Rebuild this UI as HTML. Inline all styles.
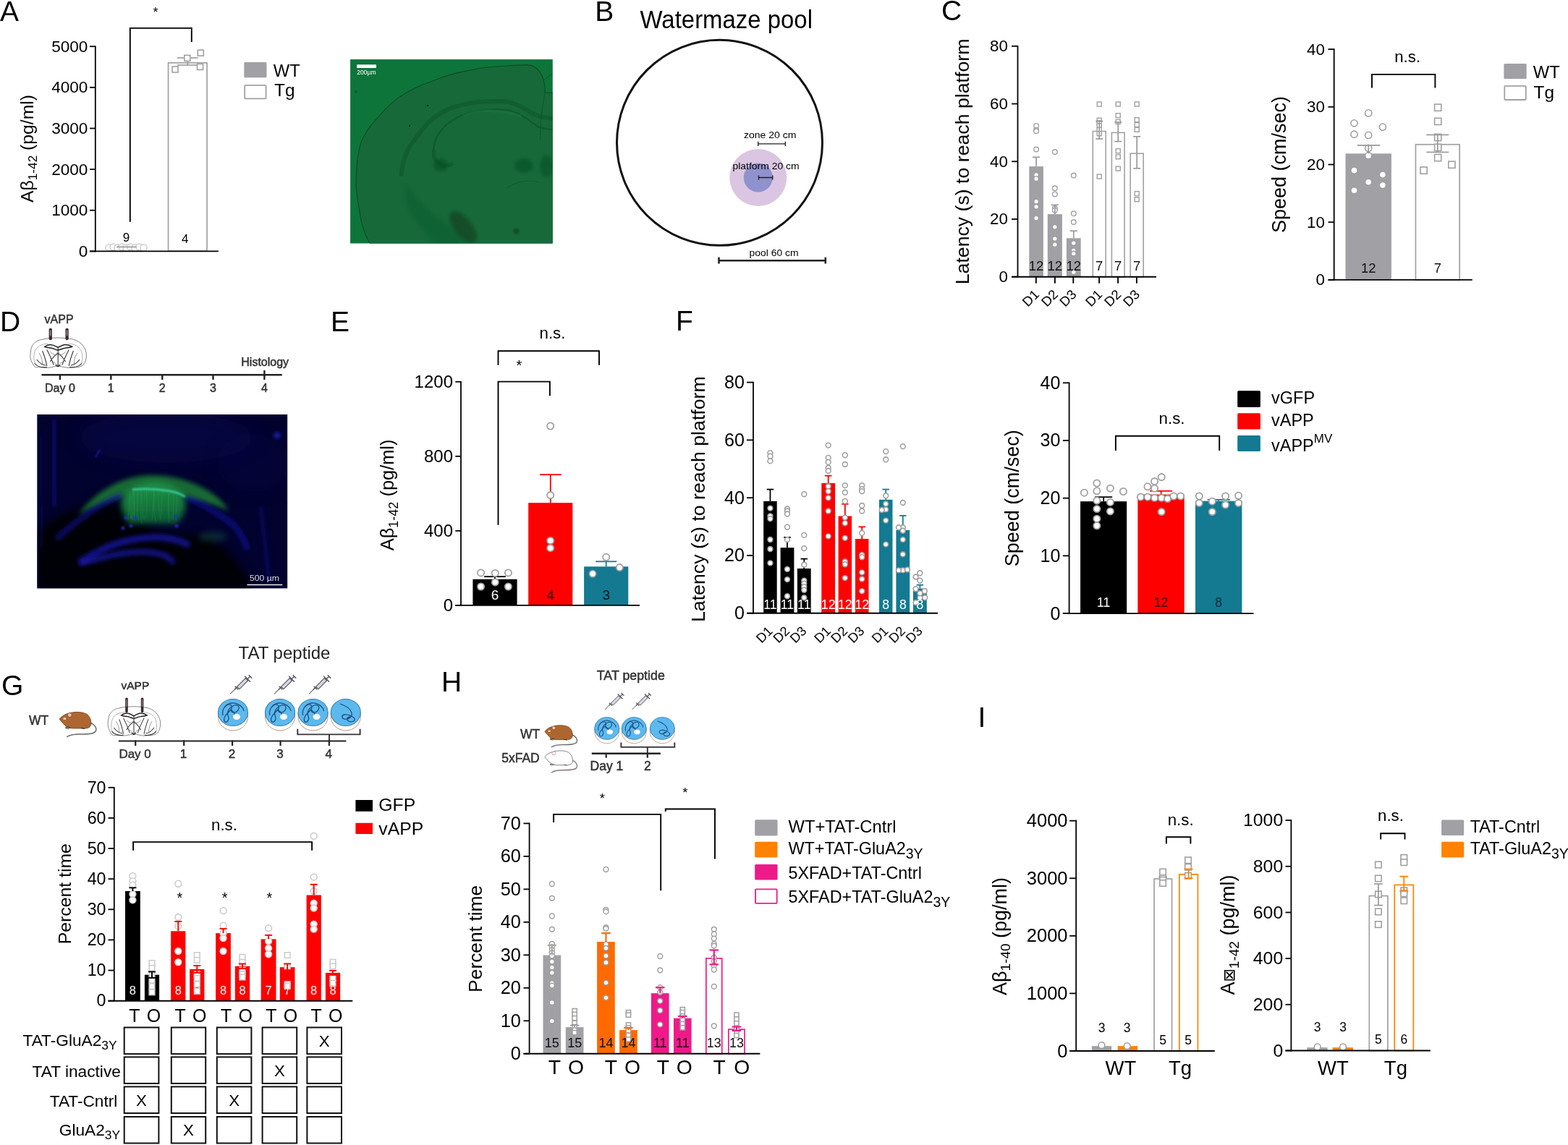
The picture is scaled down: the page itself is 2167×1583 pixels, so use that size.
<!DOCTYPE html>
<html><head><meta charset="utf-8"><title>Figure</title>
<style>html,body{margin:0;padding:0;background:#fff;} svg{display:block;}</style></head>
<body><svg xmlns="http://www.w3.org/2000/svg" width="2167" height="1583" viewBox="0 0 2167 1583" font-family="'Liberation Sans', Arial, Helvetica, sans-serif" fill="#000">
<rect width="2167" height="1583" fill="#fff"/>
<defs>
<clipPath id="clipA"><rect x="484.1" y="82.1" width="279.7" height="254.4"/></clipPath>
<clipPath id="clipD"><rect x="51.3" y="573" width="345.9" height="240.4"/></clipPath>
<filter id="blur1" x="-50%" y="-50%" width="200%" height="200%"><feGaussianBlur stdDeviation="1"/></filter>
<filter id="blur2" x="-50%" y="-50%" width="200%" height="200%"><feGaussianBlur stdDeviation="2"/></filter>
<filter id="blur3" x="-50%" y="-50%" width="200%" height="200%"><feGaussianBlur stdDeviation="3"/></filter>
<filter id="blur4" x="-50%" y="-50%" width="200%" height="200%"><feGaussianBlur stdDeviation="4"/></filter>
<filter id="blur6" x="-50%" y="-50%" width="200%" height="200%"><feGaussianBlur stdDeviation="6"/></filter>
<filter id="blur12" x="-50%" y="-50%" width="200%" height="200%"><feGaussianBlur stdDeviation="12"/></filter>
<linearGradient id="gGreen" x1="0" y1="0" x2="0" y2="1"><stop offset="0" stop-color="#22944a"/><stop offset="0.45" stop-color="#167c3e"/><stop offset="1" stop-color="#0c5a32"/></linearGradient>
<radialGradient id="gD1" cx="0.45" cy="0.35" r="0.7"><stop offset="0" stop-color="#08084a"/><stop offset="1" stop-color="#02022a"/></radialGradient>
<g id="brain">
<path d="M8.6,53.7 C3,46 0,38 0.7,32.5 C1,24 2,18 4.6,13.9 C9,7 14,4.5 20.5,3.3 C30,1 40,0 49.7,0 C60,0 68,1 76.2,2.7 C84,5 90,9 93.4,13.9 C98,20 100,26 100,32.5 C100,40 98,45 94.7,49.7 C91,53 87,54 82.8,54.3 C76,55 70,55.5 65.6,55 C58,54 53,52 49.7,52.3 C46,52 41,54 33.8,55 C28,55.5 22,55 17,54.5 C13,54.2 10.5,54.5 8.6,53.7 Z" fill="#fff" stroke="#777" stroke-width="1.2"/>
<path d="M10,50 C6,42 6,30 10,22 C15,14 24,11 32,11 M90,50 C94,42 94,30 90,22 C85,14 76,11 68,11" fill="none" stroke="#999" stroke-width="1"/>
<path d="M25.8,16.6 C30,13.5 33,12.5 36.4,12.6 C42,13 46,16 49.7,17.9 C53,16 58,13 62.9,12.6 C67,12.5 70,13.5 74.8,16.6 C70,19 66,18 62,19 C57,20 53,22 49.7,23 C46,22 42,20 38,19 C34,18 30,19 25.8,16.6 Z" fill="#fff" stroke="#222" stroke-width="1.9"/>
<path d="M49.7,17.9 V53 M49.7,28 C45,32 40,36 36,44 M49.7,28 C54,32 59,36 63,44 M30,22 C34,30 38,38 42,50 M69,22 C65,30 61,38 57,50 M22,24 C25,32 28,40 30,52 M77,24 C74,32 71,40 69,52" fill="none" stroke="#333" stroke-width="1.4"/>
<path d="M16,28 C20,34 22,40 22,48 M84,28 C80,34 78,40 78,48 M36,26 C40,30 44,32 48,32 M63,26 C59,30 55,32 51,32 M40,44 C44,46 47,48 49,52 M59,44 C55,46 52,48 50,52" fill="none" stroke="#666" stroke-width="0.9"/>
<path d="M8,47 C12,52 20,55 30,54 M92,47 C88,52 80,55 70,54 M12,40 C16,46 22,50 28,51 M88,40 C84,46 78,50 72,51" fill="none" stroke="#333" stroke-width="1.4"/>
<path d="M45,50 L49.7,53 L54,50" fill="none" stroke="#222" stroke-width="1.5"/>
</g>
<g id="pool">
<path d="M-20.5,0 V6 A20.5,19 0 0 0 20.5,6 V0" fill="#fff" stroke="#b8967e" stroke-width="1"/>
<ellipse cx="0" cy="0" rx="20.5" ry="18.5" fill="#5cb9ee" stroke="#3c7fae" stroke-width="1.1"/>
</g>
<g id="swim1" fill="none" stroke="#1d4f80" stroke-width="1.3">
<path d="M-11,-8 C-6,-14 2,-10 -3,-4 C-8,2 -14,6 -12,12 C-9,16 -4,10 -7,4 C-9,-2 -4,-8 2,-10 C8,-12 10,-6 6,-2 C2,2 -4,0 -2,-5"/>
<path d="M-14,4 C-16,-4 -10,-12 -2,-13 C6,-14 14,-8 15,-2"/>
<path d="M-2,-3 C2,0 4,3 2,6"/>
</g>
<g id="swim2" fill="none" stroke="#1d4f80" stroke-width="1.3">
<path d="M-8,-12 C-2,-10 6,-6 8,0 C10,6 4,10 -2,9 C-6,8 -6,4 -2,3 C4,2 10,6 12,8 C14,12 8,14 4,12 C0,10 2,6 6,6"/>
</g>
<g id="syr">
<path d="M0,0 L7,-7" stroke="#555" stroke-width="0.9"/>
<path d="M5.5,-5.5 L8.5,-8.5 M6,-9.5 L10,-5.5" stroke="#555" stroke-width="1.3"/>
<path d="M8.5,-9 L19,-19.5 L22,-16.5 L11.5,-6 Z" fill="#d8d4ea" stroke="#555" stroke-width="1"/>
<path d="M18,-22 L25,-15 M21.5,-18.5 L24.5,-21.5 M23,-23.5 L27,-19.5" stroke="#555" stroke-width="1.3"/>
</g>
<g id="mouseb">
<path d="M42,15 C48,17 52,22 50,27 C47,31 38,31 28,31 C20,31 14,32 10,35" fill="none" stroke="#6a6a6a" stroke-width="1.5"/>
<path d="M0,10 C3,6 8,3 13,2 C20,0 30,-0.5 37,3 C42,6 44,12 43.5,17 C43,21 40,23 35,23 L18,23 C12,23 7,19 4,15 C2,13 0.5,11.5 0,10 Z" fill="#ad6630" stroke="#6b3a14" stroke-width="0.8"/>
<circle cx="14" cy="4.5" r="2.8" fill="#f2c6b6" stroke="#6b3a14" stroke-width="0.6"/>
<ellipse cx="7" cy="9.5" rx="2" ry="1.5" fill="#f5d0c0"/>
<path d="M8,21 L15,22 M8,22.5 L13,23.5 M30,22.5 L35,23.5" stroke="#3a2a1a" stroke-width="1.1"/>
</g>
<g id="mousew">
<path d="M42,15 C48,17 52,22 50,27 C47,31 38,31 28,31 C20,31 14,32 10,35" fill="none" stroke="#8a7880" stroke-width="1.5"/>
<path d="M0,10 C3,6 8,3 13,2 C20,0 30,-0.5 37,3 C42,6 44,12 43.5,17 C43,21 40,23 35,23 L18,23 C12,23 7,19 4,15 C2,13 0.5,11.5 0,10 Z" fill="#fff" stroke="#666" stroke-width="0.9"/>
<circle cx="14" cy="4.5" r="2.8" fill="#fff" stroke="#c07090" stroke-width="0.8"/>
<path d="M8,21 L15,22 M8,22.5 L13,23.5 M30,22.5 L35,23.5" stroke="#555" stroke-width="1"/>
</g>
</defs>
<text x="0" y="28.7" font-size="39">A</text>
<text x="215" y="23" font-size="18" text-anchor="middle">*</text>
<path d="M179.8,306.8 V38.9 H264.8 V58.1" stroke="#000" stroke-width="1.9" fill="none" />
<rect x="150" y="342.87" width="49" height="4.53" fill="#a1a1a5" rx="0" />
<circle cx="150.5" cy="342.5" r="4.6" fill="#fff" stroke="#cdcdcd" stroke-width="1.5"/>
<circle cx="156.5" cy="341.5" r="4.6" fill="#fff" stroke="#cdcdcd" stroke-width="1.5"/>
<circle cx="162.5" cy="342.5" r="4.6" fill="#fff" stroke="#cdcdcd" stroke-width="1.5"/>
<circle cx="168.5" cy="341.5" r="4.6" fill="#fff" stroke="#cdcdcd" stroke-width="1.5"/>
<circle cx="174.5" cy="342.5" r="4.6" fill="#fff" stroke="#cdcdcd" stroke-width="1.5"/>
<circle cx="180.5" cy="341.5" r="4.6" fill="#fff" stroke="#cdcdcd" stroke-width="1.5"/>
<circle cx="186.5" cy="342.5" r="4.6" fill="#fff" stroke="#cdcdcd" stroke-width="1.5"/>
<circle cx="192.5" cy="341.5" r="4.6" fill="#fff" stroke="#cdcdcd" stroke-width="1.5"/>
<circle cx="198.5" cy="342.5" r="4.6" fill="#fff" stroke="#cdcdcd" stroke-width="1.5"/>
<line x1="161" y1="341.4" x2="188.5" y2="341.4" stroke="#999" stroke-width="1.6" />
<text x="174.5" y="333.7" font-size="17" text-anchor="middle">9</text>
<rect x="232.55" y="86.85" width="53.5" height="260.3" fill="#fff" stroke="#a1a1a5" stroke-width="1.7" rx="0" />
<line x1="259.3" y1="80" x2="259.3" y2="90" stroke="#999" stroke-width="1.6" />
<line x1="245" y1="80" x2="273.7" y2="80" stroke="#999" stroke-width="1.6" />
<line x1="245" y1="90" x2="273.7" y2="90" stroke="#999" stroke-width="1.6" />
<rect x="238" y="92" width="8" height="8" fill="#fff" stroke="#a0a0a0" stroke-width="1.6"/>
<rect x="254.8" y="76.4" width="8" height="8" fill="#fff" stroke="#a0a0a0" stroke-width="1.6"/>
<rect x="273.3" y="69.2" width="8" height="8" fill="#fff" stroke="#a0a0a0" stroke-width="1.6"/>
<rect x="272.6" y="88.4" width="8" height="8" fill="#fff" stroke="#a0a0a0" stroke-width="1.6"/>
<text x="255.7" y="335.5" font-size="17" text-anchor="middle">4</text>
<line x1="131.8" y1="63.3" x2="131.8" y2="348.3" stroke="#000" stroke-width="1.8" />
<line x1="124" y1="347.4" x2="131.8" y2="347.4" stroke="#000" stroke-width="1.8" />
<text x="121.4" y="354.97" font-size="22.6" text-anchor="end">0</text>
<line x1="124" y1="290.76" x2="131.8" y2="290.76" stroke="#000" stroke-width="1.8" />
<text x="121.4" y="298.33" font-size="22.6" text-anchor="end">1000</text>
<line x1="124" y1="234.12" x2="131.8" y2="234.12" stroke="#000" stroke-width="1.8" />
<text x="121.4" y="241.69" font-size="22.6" text-anchor="end">2000</text>
<line x1="124" y1="177.48" x2="131.8" y2="177.48" stroke="#000" stroke-width="1.8" />
<text x="121.4" y="185.05" font-size="22.6" text-anchor="end">3000</text>
<line x1="124" y1="120.84" x2="131.8" y2="120.84" stroke="#000" stroke-width="1.8" />
<text x="121.4" y="128.41" font-size="22.6" text-anchor="end">4000</text>
<line x1="124" y1="64.2" x2="131.8" y2="64.2" stroke="#000" stroke-width="1.8" />
<text x="121.4" y="71.77" font-size="22.6" text-anchor="end">5000</text>
<line x1="124" y1="347.4" x2="302" y2="347.4" stroke="#000" stroke-width="1.8" />
<rect x="337.3" y="86" width="31.2" height="21.3" fill="#a1a1a5" rx="1.5" />
<rect x="338.2" y="117.9" width="29.4" height="18.5" fill="#fff" stroke="#a1a1a5" stroke-width="1.8" rx="1" />
<text x="377.8" y="105.6" font-size="24.3" textLength="37" lengthAdjust="spacingAndGlyphs">WT</text>
<text x="379" y="133.3" font-size="24.4">Tg</text>
<text x="46" y="280" font-size="24.7" transform="rotate(-90 46 280)">Aβ<tspan font-size="17.3" dy="4.6">1-42</tspan><tspan dy="-4.6"> (pg/ml)</tspan></text>
<rect x="484.1" y="82.1" width="279.7" height="254.4" fill="#0e753a"/>
<g clip-path="url(#clipA)">
<path d="M511.4,337 C504,325 499,310 496.6,290 C493,270 491,255 492.4,243.5 C493,228 494,218 495.7,210.4 C498,198 501,190 504.8,185.6 C509,178 513,172 518,167.4 C528,155 538,145 549.5,135.9 C565,125 580,118 595.9,112.8 C612,106 628,101 645.5,97.9 C662,94 678,92 695.2,91.2 C708,90.5 718,89.8 728.3,89.6 C736,90 741,93 744.8,97.9 C748,102 750,106 751.4,111.1 C753,118 753.5,123 753.1,127.7 L765,128 L765,337 Z" fill="#17693a" stroke="#064f20" stroke-width="1.1"/>
<path d="M753,127 C752,140 749,150 748.1,160.8 C747,175 746.6,185 746.5,193.9" fill="none" stroke="#0a4d22" stroke-width="0.9" stroke-opacity="0.7"/>
<path d="M751,112 C755,107 760,104 765,101" fill="none" stroke="#0a4d22" stroke-width="0.9" stroke-opacity="0.7"/>
<path d="M554.5,243.5 C556,220 563,205 572.7,193.9 C580,183 588,173 595.9,165.7 C607,157 617,151 629,147.5 C640,144 650,142 662,140.9 C675,140 685,140 695.2,140.1 C705,141 712,143.5 720,147.5 C727,151 731,154 736.5,157.4 C745,161 752,163 765,164" fill="none" stroke="#0c5225" stroke-width="6" stroke-opacity="0.45"/>
<path d="M599.2,207.1 C600,199 602,191 605.8,185.6 C612,176 620,169 629,164 C640,158 650,154 662,152.5 C675,151 690,151 703.4,152.5 C713,155 721,159 728.3,164 C735,169 740,173 744.8,175.6 C752,178 758,179 765,179" fill="none" stroke="#0c5225" stroke-width="2.5" stroke-opacity="0.6"/>
<path d="M600,207 C598,215 601,222 606,226 C612,231 620,230 626,226" fill="none" stroke="#0c5225" stroke-width="5" stroke-opacity="0.5"/>
<path d="M640,160 C660,150 690,152 720,160" fill="none" stroke="#1d7a42" stroke-width="4" stroke-opacity="0.4"/>
<ellipse cx="609" cy="228" rx="10" ry="9" fill="#0b4a20" fill-opacity="0.55" filter="url(#blur2)"/>
<path d="M560,250 C570,270 590,290 605,300 C620,310 635,325 645,337 L600,337 C585,320 570,300 560,280 Z" fill="#0e5426" fill-opacity="0.35" filter="url(#blur3)"/>
<ellipse cx="640" cy="314" rx="12" ry="26" transform="rotate(-38 640 314)" fill="#0a3f1c" fill-opacity="0.65" filter="url(#blur2)"/>
<ellipse cx="724" cy="229" rx="13" ry="10" fill="#0b4a20" fill-opacity="0.55" filter="url(#blur2)"/>
<ellipse cx="755" cy="230" rx="9" ry="15" fill="#0b4a20" fill-opacity="0.5" filter="url(#blur2)"/>
<path d="M700,260 C715,250 730,248 745,252" fill="none" stroke="#0c5225" stroke-width="1" stroke-opacity="0.5"/>
<ellipse cx="713.4" cy="319.6" rx="4" ry="3.5" fill="#0a3f1c" fill-opacity="0.7" filter="url(#blur1)"/>
<circle cx="591" cy="146" r="1.2" fill="#063a18"/><circle cx="566" cy="174" r="1.2" fill="#063a18"/><circle cx="492" cy="127" r="2" fill="#0a4d22" fill-opacity="0.6"/>
</g>
<rect x="493.2" y="89.3" width="26.8" height="4.7" fill="#fff" rx="0" />
<text x="493.2" y="102.8" font-size="8.2" fill="#fff" textLength="26.5" lengthAdjust="spacingAndGlyphs">200µm</text>
<text x="822.2" y="28.6" font-size="39">B</text>
<text x="884.5" y="39.3" font-size="34.5" textLength="238.5" lengthAdjust="spacingAndGlyphs">Watermaze pool</text>
<circle cx="994.5" cy="197.3" r="142" fill="none" stroke="#111" stroke-width="3"/>
<circle cx="1047.8" cy="245.5" r="39.5" fill="#dac6e2"/>
<circle cx="1047.8" cy="245.5" r="20" fill="#8f92cc"/>
<text x="1027.9" y="190.5" font-size="13.3" textLength="72.6" lengthAdjust="spacingAndGlyphs">zone 20 cm</text>
<path d="M1047.8,195.8 V202 M1047.8,198.9 H1085.4 M1085.4,195.8 V202" stroke="#222" stroke-width="1.4" fill="none" />
<text x="1012.4" y="234.3" font-size="13.3" textLength="92.3" lengthAdjust="spacingAndGlyphs">platform 20 cm</text>
<path d="M1048.5,242.4 V248.6 M1048.5,245.5 H1067.8 M1067.8,242.4 V248.6" stroke="#222" stroke-width="1.4" fill="none" />
<text x="1035.6" y="354.3" font-size="13.3" textLength="68" lengthAdjust="spacingAndGlyphs">pool 60 cm</text>
<path d="M993.5,355.8 V364.6 M993.5,360.2 H1140.8 M1140.8,355.8 V364.6" stroke="#222" stroke-width="2.6" fill="none" />
<text x="1301" y="28.4" font-size="39">C</text>
<rect x="1422.3" y="230.1" width="19.6" height="152.6" fill="#a1a1a5" rx="0" />
<rect x="1447.8" y="296.1" width="20.1" height="86.6" fill="#a1a1a5" rx="0" />
<rect x="1473.9" y="329.3" width="19.8" height="53.4" fill="#a1a1a5" rx="0" />
<rect x="1510.3" y="181.5" width="17.9" height="201.4" fill="#fff" stroke="#a1a1a5" stroke-width="1.6" rx="0" />
<rect x="1536.4" y="183.4" width="17.7" height="199.5" fill="#fff" stroke="#a1a1a5" stroke-width="1.6" rx="0" />
<rect x="1562.2" y="212.2" width="18" height="170.7" fill="#fff" stroke="#a1a1a5" stroke-width="1.6" rx="0" />
<circle cx="1432.1" cy="173.9" r="3.3" fill="#fff" stroke="#a0a0a0" stroke-width="1.4"/>
<circle cx="1432.1" cy="179.8" r="3.3" fill="#fff" stroke="#a0a0a0" stroke-width="1.4"/>
<circle cx="1432.1" cy="181.2" r="3.3" fill="#fff" stroke="#a0a0a0" stroke-width="1.4"/>
<circle cx="1432.1" cy="206.5" r="3.3" fill="#fff" stroke="#a0a0a0" stroke-width="1.4"/>
<circle cx="1432.1" cy="241.8" r="3.3" fill="#fff" stroke="#a0a0a0" stroke-width="1.4"/>
<circle cx="1432.1" cy="247.2" r="3.3" fill="#fff" stroke="#a0a0a0" stroke-width="1.4"/>
<circle cx="1432.1" cy="278.5" r="3.3" fill="#fff" stroke="#a0a0a0" stroke-width="1.4"/>
<circle cx="1432.1" cy="285.8" r="3.3" fill="#fff" stroke="#a0a0a0" stroke-width="1.4"/>
<circle cx="1432.1" cy="301.6" r="3.3" fill="#fff" stroke="#a0a0a0" stroke-width="1.4"/>
<circle cx="1457.85" cy="210" r="3.3" fill="#fff" stroke="#a0a0a0" stroke-width="1.4"/>
<circle cx="1457.85" cy="260.3" r="3.3" fill="#fff" stroke="#a0a0a0" stroke-width="1.4"/>
<circle cx="1457.85" cy="268.4" r="3.3" fill="#fff" stroke="#a0a0a0" stroke-width="1.4"/>
<circle cx="1457.85" cy="288" r="3.3" fill="#fff" stroke="#a0a0a0" stroke-width="1.4"/>
<circle cx="1457.85" cy="290.7" r="3.3" fill="#fff" stroke="#a0a0a0" stroke-width="1.4"/>
<circle cx="1457.85" cy="313.8" r="3.3" fill="#fff" stroke="#a0a0a0" stroke-width="1.4"/>
<circle cx="1457.85" cy="330" r="3.3" fill="#fff" stroke="#a0a0a0" stroke-width="1.4"/>
<circle cx="1457.85" cy="338.2" r="3.3" fill="#fff" stroke="#a0a0a0" stroke-width="1.4"/>
<circle cx="1483.8" cy="242.6" r="3.3" fill="#fff" stroke="#a0a0a0" stroke-width="1.4"/>
<circle cx="1483.8" cy="295.3" r="3.3" fill="#fff" stroke="#a0a0a0" stroke-width="1.4"/>
<circle cx="1483.8" cy="307" r="3.3" fill="#fff" stroke="#a0a0a0" stroke-width="1.4"/>
<circle cx="1483.8" cy="336" r="3.3" fill="#fff" stroke="#a0a0a0" stroke-width="1.4"/>
<circle cx="1483.8" cy="346.4" r="3.3" fill="#fff" stroke="#a0a0a0" stroke-width="1.4"/>
<circle cx="1483.8" cy="350.5" r="3.3" fill="#fff" stroke="#a0a0a0" stroke-width="1.4"/>
<circle cx="1483.8" cy="376.3" r="3.3" fill="#fff" stroke="#a0a0a0" stroke-width="1.4"/>
<rect x="1516.25" y="141" width="6" height="6" fill="#fff" stroke="#a0a0a0" stroke-width="1.4"/>
<rect x="1516.25" y="163.3" width="6" height="6" fill="#fff" stroke="#a0a0a0" stroke-width="1.4"/>
<rect x="1516.25" y="166.8" width="6" height="6" fill="#fff" stroke="#a0a0a0" stroke-width="1.4"/>
<rect x="1516.25" y="170.9" width="6" height="6" fill="#fff" stroke="#a0a0a0" stroke-width="1.4"/>
<rect x="1516.25" y="176.3" width="6" height="6" fill="#fff" stroke="#a0a0a0" stroke-width="1.4"/>
<rect x="1516.25" y="181.7" width="6" height="6" fill="#fff" stroke="#a0a0a0" stroke-width="1.4"/>
<rect x="1516.25" y="241" width="6" height="6" fill="#fff" stroke="#a0a0a0" stroke-width="1.4"/>
<rect x="1542.25" y="141" width="6" height="6" fill="#fff" stroke="#a0a0a0" stroke-width="1.4"/>
<rect x="1542.25" y="156.7" width="6" height="6" fill="#fff" stroke="#a0a0a0" stroke-width="1.4"/>
<rect x="1542.25" y="165.4" width="6" height="6" fill="#fff" stroke="#a0a0a0" stroke-width="1.4"/>
<rect x="1542.25" y="205.6" width="6" height="6" fill="#fff" stroke="#a0a0a0" stroke-width="1.4"/>
<rect x="1542.25" y="213.8" width="6" height="6" fill="#fff" stroke="#a0a0a0" stroke-width="1.4"/>
<rect x="1542.25" y="230.1" width="6" height="6" fill="#fff" stroke="#a0a0a0" stroke-width="1.4"/>
<rect x="1568.2" y="141" width="6" height="6" fill="#fff" stroke="#a0a0a0" stroke-width="1.4"/>
<rect x="1568.2" y="162.7" width="6" height="6" fill="#fff" stroke="#a0a0a0" stroke-width="1.4"/>
<rect x="1568.2" y="169.5" width="6" height="6" fill="#fff" stroke="#a0a0a0" stroke-width="1.4"/>
<rect x="1568.2" y="176.3" width="6" height="6" fill="#fff" stroke="#a0a0a0" stroke-width="1.4"/>
<rect x="1568.2" y="264.6" width="6" height="6" fill="#fff" stroke="#a0a0a0" stroke-width="1.4"/>
<rect x="1568.2" y="272.7" width="6" height="6" fill="#fff" stroke="#a0a0a0" stroke-width="1.4"/>
<line x1="1432.1" y1="217.3" x2="1432.1" y2="230.1" stroke="#999" stroke-width="1.7" />
<line x1="1427.1" y1="217.3" x2="1437.1" y2="217.3" stroke="#999" stroke-width="1.7" />
<line x1="1457.85" y1="283.4" x2="1457.85" y2="296.1" stroke="#999" stroke-width="1.7" />
<line x1="1452.85" y1="283.4" x2="1462.85" y2="283.4" stroke="#999" stroke-width="1.7" />
<line x1="1483.8" y1="319.2" x2="1483.8" y2="329.3" stroke="#999" stroke-width="1.7" />
<line x1="1478.8" y1="319.2" x2="1488.8" y2="319.2" stroke="#999" stroke-width="1.7" />
<line x1="1519.25" y1="167.6" x2="1519.25" y2="192" stroke="#999" stroke-width="1.7" />
<line x1="1514.25" y1="167.6" x2="1524.25" y2="167.6" stroke="#999" stroke-width="1.7" />
<line x1="1514.25" y1="192" x2="1524.25" y2="192" stroke="#999" stroke-width="1.7" />
<line x1="1545.25" y1="169" x2="1545.25" y2="195.6" stroke="#999" stroke-width="1.7" />
<line x1="1540.25" y1="169" x2="1550.25" y2="169" stroke="#999" stroke-width="1.7" />
<line x1="1540.25" y1="195.6" x2="1550.25" y2="195.6" stroke="#999" stroke-width="1.7" />
<line x1="1571.2" y1="188.8" x2="1571.2" y2="232.8" stroke="#999" stroke-width="1.7" />
<line x1="1566.2" y1="188.8" x2="1576.2" y2="188.8" stroke="#999" stroke-width="1.7" />
<line x1="1566.2" y1="232.8" x2="1576.2" y2="232.8" stroke="#999" stroke-width="1.7" />
<text x="1432.1" y="373.5" font-size="18.5" text-anchor="middle" fill="#111">12</text>
<text x="1457.85" y="373.5" font-size="18.5" text-anchor="middle" fill="#111">12</text>
<text x="1483.8" y="373.5" font-size="18.5" text-anchor="middle" fill="#111">12</text>
<text x="1519.25" y="373.5" font-size="18.5" text-anchor="middle" fill="#111">7</text>
<text x="1545.25" y="373.5" font-size="18.5" text-anchor="middle" fill="#111">7</text>
<text x="1571.2" y="373.5" font-size="18.5" text-anchor="middle" fill="#111">7</text>
<line x1="1406.5" y1="62.9" x2="1406.5" y2="383.6" stroke="#000" stroke-width="1.8" />
<line x1="1398.1" y1="382.7" x2="1406.5" y2="382.7" stroke="#000" stroke-width="1.8" />
<text x="1392.9" y="390.2" font-size="22.4" text-anchor="end">0</text>
<line x1="1398.1" y1="302.98" x2="1406.5" y2="302.98" stroke="#000" stroke-width="1.8" />
<text x="1392.9" y="310.48" font-size="22.4" text-anchor="end">20</text>
<line x1="1398.1" y1="223.25" x2="1406.5" y2="223.25" stroke="#000" stroke-width="1.8" />
<text x="1392.9" y="230.75" font-size="22.4" text-anchor="end">40</text>
<line x1="1398.1" y1="143.52" x2="1406.5" y2="143.52" stroke="#000" stroke-width="1.8" />
<text x="1392.9" y="151.03" font-size="22.4" text-anchor="end">60</text>
<line x1="1398.1" y1="63.8" x2="1406.5" y2="63.8" stroke="#000" stroke-width="1.8" />
<text x="1392.9" y="71.3" font-size="22.4" text-anchor="end">80</text>
<line x1="1398.1" y1="382.7" x2="1598" y2="382.7" stroke="#000" stroke-width="1.9" />
<line x1="1431.8" y1="382.7" x2="1431.8" y2="391.7" stroke="#000" stroke-width="1.9" />
<line x1="1457.9" y1="382.7" x2="1457.9" y2="391.7" stroke="#000" stroke-width="1.9" />
<line x1="1483.3" y1="382.7" x2="1483.3" y2="391.7" stroke="#000" stroke-width="1.9" />
<line x1="1519.1" y1="382.7" x2="1519.1" y2="391.7" stroke="#000" stroke-width="1.9" />
<line x1="1545.1" y1="382.7" x2="1545.1" y2="391.7" stroke="#000" stroke-width="1.9" />
<line x1="1570.9" y1="382.7" x2="1570.9" y2="391.7" stroke="#000" stroke-width="1.9" />
<text x="1437.3" y="408.3" font-size="18.5" text-anchor="end" transform="rotate(-45 1437.3 408.3)">D1</text>
<text x="1463.4" y="408.3" font-size="18.5" text-anchor="end" transform="rotate(-45 1463.4 408.3)">D2</text>
<text x="1488.8" y="408.3" font-size="18.5" text-anchor="end" transform="rotate(-45 1488.8 408.3)">D3</text>
<text x="1524.6" y="408.3" font-size="18.5" text-anchor="end" transform="rotate(-45 1524.6 408.3)">D1</text>
<text x="1550.6" y="408.3" font-size="18.5" text-anchor="end" transform="rotate(-45 1550.6 408.3)">D2</text>
<text x="1576.4" y="408.3" font-size="18.5" text-anchor="end" transform="rotate(-45 1576.4 408.3)">D3</text>
<text x="1339.4" y="393.3" font-size="26.7" transform="rotate(-90 1339.4 393.3)">Latency (s) to reach platform</text>
<rect x="1859.5" y="212.3" width="63.4" height="174.6" fill="#a1a1a5" rx="0" />
<rect x="1956.45" y="199.75" width="60.7" height="187.3" fill="#fff" stroke="#a1a1a5" stroke-width="1.7" rx="0" />
<circle cx="1871.5" cy="170.3" r="4.6" fill="#fff" stroke="#a0a0a0" stroke-width="1.6"/>
<circle cx="1891.2" cy="156.4" r="4.6" fill="#fff" stroke="#a0a0a0" stroke-width="1.6"/>
<circle cx="1910.9" cy="175.6" r="4.6" fill="#fff" stroke="#a0a0a0" stroke-width="1.6"/>
<circle cx="1871.5" cy="185.7" r="4.6" fill="#fff" stroke="#a0a0a0" stroke-width="1.6"/>
<circle cx="1891.2" cy="186.9" r="4.6" fill="#fff" stroke="#a0a0a0" stroke-width="1.6"/>
<circle cx="1891.2" cy="204.9" r="4.6" fill="#fff" stroke="#a0a0a0" stroke-width="1.6"/>
<circle cx="1891.2" cy="215.2" r="4.6" fill="#fff" stroke="#a0a0a0" stroke-width="1.6"/>
<circle cx="1871.5" cy="235.6" r="4.6" fill="#fff" stroke="#a0a0a0" stroke-width="1.6"/>
<circle cx="1910.9" cy="241.6" r="4.6" fill="#fff" stroke="#a0a0a0" stroke-width="1.6"/>
<circle cx="1891.2" cy="251.7" r="4.6" fill="#fff" stroke="#a0a0a0" stroke-width="1.6"/>
<circle cx="1910.9" cy="256" r="4.6" fill="#fff" stroke="#a0a0a0" stroke-width="1.6"/>
<circle cx="1871.5" cy="263.2" r="4.6" fill="#fff" stroke="#a0a0a0" stroke-width="1.6"/>
<rect x="1982.6" y="144.1" width="9.2" height="9.2" fill="#fff" stroke="#a0a0a0" stroke-width="1.6"/>
<rect x="1982.6" y="163.3" width="9.2" height="9.2" fill="#fff" stroke="#a0a0a0" stroke-width="1.6"/>
<rect x="1982.6" y="185.4" width="9.2" height="9.2" fill="#fff" stroke="#a0a0a0" stroke-width="1.6"/>
<rect x="1982.6" y="199.3" width="9.2" height="9.2" fill="#fff" stroke="#a0a0a0" stroke-width="1.6"/>
<rect x="1982.6" y="213.5" width="9.2" height="9.2" fill="#fff" stroke="#a0a0a0" stroke-width="1.6"/>
<rect x="1963" y="231" width="9.2" height="9.2" fill="#fff" stroke="#a0a0a0" stroke-width="1.6"/>
<rect x="2001.8" y="223.1" width="9.2" height="9.2" fill="#fff" stroke="#a0a0a0" stroke-width="1.6"/>
<line x1="1891.2" y1="200.8" x2="1891.2" y2="212.3" stroke="#999" stroke-width="1.7" />
<line x1="1875.9" y1="200.8" x2="1907.3" y2="200.8" stroke="#999" stroke-width="1.7" />
<line x1="1986.8" y1="186.4" x2="1986.8" y2="210.4" stroke="#999" stroke-width="1.7" />
<line x1="1971.3" y1="186.4" x2="2002.3" y2="186.4" stroke="#999" stroke-width="1.7" />
<line x1="1971.3" y1="210.4" x2="2002.3" y2="210.4" stroke="#999" stroke-width="1.7" />
<text x="1891.2" y="377.2" font-size="18.5" text-anchor="middle" fill="#111">12</text>
<text x="1986.8" y="377.2" font-size="18.5" text-anchor="middle" fill="#111">7</text>
<line x1="1843.7" y1="67.2" x2="1843.7" y2="387.8" stroke="#000" stroke-width="1.8" />
<line x1="1835.5" y1="386.9" x2="1843.7" y2="386.9" stroke="#000" stroke-width="1.8" />
<text x="1831" y="394.4" font-size="22.4" text-anchor="end">0</text>
<line x1="1835.5" y1="307.2" x2="1843.7" y2="307.2" stroke="#000" stroke-width="1.8" />
<text x="1831" y="314.7" font-size="22.4" text-anchor="end">10</text>
<line x1="1835.5" y1="227.5" x2="1843.7" y2="227.5" stroke="#000" stroke-width="1.8" />
<text x="1831" y="235" font-size="22.4" text-anchor="end">20</text>
<line x1="1835.5" y1="147.8" x2="1843.7" y2="147.8" stroke="#000" stroke-width="1.8" />
<text x="1831" y="155.3" font-size="22.4" text-anchor="end">30</text>
<line x1="1835.5" y1="68.1" x2="1843.7" y2="68.1" stroke="#000" stroke-width="1.8" />
<text x="1831" y="75.6" font-size="22.4" text-anchor="end">40</text>
<line x1="1835.5" y1="386.9" x2="2034.8" y2="386.9" stroke="#000" stroke-width="1.9" />
<path d="M1896,121.6 V102.9 H1983.4 V121.6" stroke="#000" stroke-width="1.9" fill="none" />
<text x="1945.2" y="85.6" font-size="22.3" text-anchor="middle">n.s.</text>
<rect x="2078.4" y="88" width="31.3" height="21.1" fill="#a1a1a5" rx="1.5" />
<rect x="2079.3" y="118.9" width="29.5" height="19.1" fill="#fff" stroke="#a1a1a5" stroke-width="1.8" rx="1" />
<text x="2118.8" y="107.5" font-size="24.3" textLength="37" lengthAdjust="spacingAndGlyphs">WT</text>
<text x="2119.5" y="135.5" font-size="24.4">Tg</text>
<text x="1777.3" y="322" font-size="27" transform="rotate(-90 1777.3 322)">Speed (cm/sec)</text>
<text x="0" y="457.6" font-size="39">D</text>
<text x="61.6" y="446.7" font-size="16" fill="#333" stroke="#333" stroke-width="0.5">vAPP</text>
<use href="#brain" transform="translate(41.4 467) scale(0.78 0.75)"/>
<rect x="67.65" y="453.7" width="4.3" height="16.6" rx="2.15" fill="#3a2a2e"/>
<rect x="68.75" y="456.7" width="2.1" height="7.47" fill="#8a7a80"/>
<rect x="90.45" y="453.7" width="4.3" height="16.6" rx="2.15" fill="#3a2a2e"/>
<rect x="91.55" y="456.7" width="2.1" height="7.47" fill="#8a7a80"/>
<line x1="57.5" y1="518.2" x2="389.8" y2="518.2" stroke="#222" stroke-width="2.6" />
<line x1="82.9" y1="517" x2="82.9" y2="525" stroke="#222" stroke-width="2.4" />
<text x="82.9" y="541.7" font-size="16" text-anchor="middle" fill="#333" stroke="#333" stroke-width="0.5">Day 0</text>
<line x1="153.3" y1="517" x2="153.3" y2="525" stroke="#222" stroke-width="2.4" />
<text x="153.3" y="541.7" font-size="16" text-anchor="middle" fill="#333" stroke="#333" stroke-width="0.5">1</text>
<line x1="224.3" y1="517" x2="224.3" y2="525" stroke="#222" stroke-width="2.4" />
<text x="224.3" y="541.7" font-size="16" text-anchor="middle" fill="#333" stroke="#333" stroke-width="0.5">2</text>
<line x1="294.5" y1="517" x2="294.5" y2="525" stroke="#222" stroke-width="2.4" />
<text x="294.5" y="541.7" font-size="16" text-anchor="middle" fill="#333" stroke="#333" stroke-width="0.5">3</text>
<line x1="365.4" y1="517" x2="365.4" y2="525" stroke="#222" stroke-width="2.4" />
<text x="365.4" y="541.7" font-size="16" text-anchor="middle" fill="#333" stroke="#333" stroke-width="0.5">4</text>
<line x1="365.4" y1="512" x2="365.4" y2="520" stroke="#222" stroke-width="2.4" />
<text x="333.3" y="506.2" font-size="16" fill="#333" stroke="#333" stroke-width="0.5">Histology</text>
<rect x="51.3" y="573" width="345.9" height="240.4" fill="#02022e"/>
<g clip-path="url(#clipD)">
<ellipse cx="230" cy="605" rx="120" ry="35" fill="#0a0a60" opacity="0.35" filter="url(#blur12)"/>
<ellipse cx="350" cy="640" rx="50" ry="40" fill="#08085a" opacity="0.2" filter="url(#blur12)"/>
<path d="M51,735 C90,700 140,690 170,705 C190,715 200,730 220,735 C250,740 270,735 290,745 C320,760 340,790 350,815 L51,815 Z" fill="#000006" opacity="0.85" filter="url(#blur6)"/>
<ellipse cx="160" cy="700" rx="40" ry="18" fill="#000008" opacity="0.6" filter="url(#blur6)"/>
<path d="M74,580 C73,620 74,660 76,700" stroke="#1212a0" stroke-width="7" fill="none" opacity="0.55" filter="url(#blur3)"/>
<path d="M57,600 C56,650 57,700 58,760" stroke="#0c0c80" stroke-width="5" fill="none" opacity="0.45" filter="url(#blur3)"/>
<path d="M132,632 L138,622" stroke="#1818b0" stroke-width="3" opacity="0.7" filter="url(#blur1)"/>
<path d="M360,700 C365,740 368,770 372,805" stroke="#0c0c80" stroke-width="6" fill="none" opacity="0.5" filter="url(#blur3)"/>
<path d="M108,712 C125,688 155,664 195,658 C230,654 265,664 290,680 C302,688 310,696 316,706 C300,700 285,694 265,690 C240,684 215,683 190,684 C160,686 135,698 108,712 Z" fill="#1a7c34" opacity="0.85" filter="url(#blur3)"/>
<path d="M168,688 C180,672 200,666 215,667 C235,668 250,676 256,690 C258,705 252,718 244,724 L178,724 C170,712 166,700 168,688 Z" fill="url(#gGreen)" filter="url(#blur4)"/>
<path d="M199.3,678.9 C199.9,695 197.6,708 199.5,718.9" stroke="#40c070" stroke-width="0.8" fill="none" opacity="0.13"/>
<path d="M212.5,678.2 C212.3,695 210.8,708 210.1,719.4" stroke="#40c070" stroke-width="0.8" fill="none" opacity="0.24"/>
<path d="M184.9,679.3 C185.4,695 186.7,708 185.4,719.2" stroke="#40c070" stroke-width="0.8" fill="none" opacity="0.27"/>
<path d="M179.4,683.2 C178.5,695 177.9,708 177.1,718.5" stroke="#40c070" stroke-width="0.8" fill="none" opacity="0.24"/>
<path d="M189.0,681.5 C189.6,695 188.5,708 189.3,716.5" stroke="#40c070" stroke-width="0.8" fill="none" opacity="0.13"/>
<path d="M190.8,682.1 C190.5,695 190.1,708 191.3,719.6" stroke="#40c070" stroke-width="0.8" fill="none" opacity="0.16"/>
<path d="M233.2,682.2 C232.2,695 233.5,708 233.3,723.0" stroke="#40c070" stroke-width="0.8" fill="none" opacity="0.23"/>
<path d="M196.7,683.9 C195.2,695 196.4,708 198.3,717.2" stroke="#40c070" stroke-width="0.8" fill="none" opacity="0.19"/>
<path d="M178.8,682.0 C179.9,695 179.1,708 181.1,718.5" stroke="#40c070" stroke-width="0.8" fill="none" opacity="0.22"/>
<path d="M218.8,681.5 C218.6,695 220.2,708 221.5,719.8" stroke="#40c070" stroke-width="0.8" fill="none" opacity="0.22"/>
<path d="M180.4,682.2 C181.0,695 182.3,708 182.3,718.3" stroke="#40c070" stroke-width="0.8" fill="none" opacity="0.18"/>
<path d="M224.1,678.1 C224.0,695 222.8,708 221.8,716.5" stroke="#40c070" stroke-width="0.8" fill="none" opacity="0.24"/>
<path d="M185.3,679.5 C184.9,695 186.8,708 182.8,719.6" stroke="#40c070" stroke-width="0.8" fill="none" opacity="0.20"/>
<path d="M239.6,682.9 C241.1,695 238.7,708 239.1,718.9" stroke="#40c070" stroke-width="0.8" fill="none" opacity="0.25"/>
<path d="M245.0,678.9 C243.7,695 243.9,708 243.4,719.9" stroke="#40c070" stroke-width="0.8" fill="none" opacity="0.21"/>
<path d="M194.9,678.0 C194.6,695 194.4,708 195.3,723.6" stroke="#40c070" stroke-width="0.8" fill="none" opacity="0.22"/>
<path d="M213.1,681.7 C213.8,695 211.3,708 215.5,722.2" stroke="#40c070" stroke-width="0.8" fill="none" opacity="0.25"/>
<path d="M233.4,680.4 C233.0,695 231.9,708 234.3,716.5" stroke="#40c070" stroke-width="0.8" fill="none" opacity="0.13"/>
<path d="M191.0,679.0 C190.4,695 189.2,708 188.0,717.2" stroke="#40c070" stroke-width="0.8" fill="none" opacity="0.14"/>
<path d="M202.2,678.2 C203.7,695 202.6,708 200.1,718.0" stroke="#40c070" stroke-width="0.8" fill="none" opacity="0.17"/>
<path d="M202.2,678.7 C203.6,695 204.2,708 202.0,719.9" stroke="#40c070" stroke-width="0.8" fill="none" opacity="0.13"/>
<path d="M183.4,680.1 C182.4,695 184.7,708 181.3,716.2" stroke="#40c070" stroke-width="0.8" fill="none" opacity="0.26"/>
<path d="M183,677 C200,675 218,676 235,679 C245,681 252,684 256,687" stroke="#38d0a0" stroke-width="3" fill="none" opacity="0.85" filter="url(#blur1)"/>
<ellipse cx="294" cy="742" rx="20" ry="7" fill="#1a6a48" opacity="0.35" filter="url(#blur4)"/>
<path d="M78,745 C100,725 130,700 168,684" stroke="#1616b8" stroke-width="6" fill="none" opacity="0.7" filter="url(#blur3)"/>
<path d="M258,688 C285,698 305,712 322,725 C332,735 338,748 342,760" stroke="#1616b8" stroke-width="6" fill="none" opacity="0.7" filter="url(#blur3)"/>
<path d="M110,777 C130,765 150,754 170,749 C190,744 210,741 230,744 C245,746 255,750 262,754" stroke="#1c1cc8" stroke-width="8" fill="none" opacity="0.75" filter="url(#blur3)"/>
<path d="M110,779 C130,774 150,768 170,765 C190,762 210,762 225,767 C233,770 237,774 240,779" stroke="#1c1cc0" stroke-width="7" fill="none" opacity="0.75" filter="url(#blur3)"/>
<circle cx="174" cy="716" r="2.6" fill="#2828d0" opacity="0.8" filter="url(#blur1)"/>
<circle cx="181" cy="727" r="2.6" fill="#2828d0" opacity="0.8" filter="url(#blur1)"/>
<circle cx="170" cy="730" r="2.6" fill="#2828d0" opacity="0.8" filter="url(#blur1)"/>
<circle cx="243" cy="714" r="2.6" fill="#2828d0" opacity="0.8" filter="url(#blur1)"/>
<circle cx="244" cy="727" r="2.6" fill="#2828d0" opacity="0.8" filter="url(#blur1)"/>
<circle cx="187" cy="716" r="2.6" fill="#2828d0" opacity="0.8" filter="url(#blur1)"/>
<circle cx="383" cy="602" r="5" fill="#2020c0" opacity="0.7" filter="url(#blur2)"/>
</g>
<text x="345" y="803.3" font-size="10.5" fill="#ddd" textLength="41" lengthAdjust="spacingAndGlyphs">500 µm</text>
<line x1="341.4" y1="808.5" x2="390.3" y2="808.5" stroke="#eee" stroke-width="1.6" />
<text x="457" y="457.7" font-size="39">E</text>
<rect x="653.4" y="800.8" width="61.2" height="36.1" fill="#000" rx="0" />
<rect x="730.2" y="695.2" width="61.1" height="141.7" fill="#ff0000" rx="0" />
<rect x="807.1" y="783.3" width="61.2" height="53.6" fill="#137a92" rx="0" />
<line x1="684" y1="797.2" x2="684" y2="800.8" stroke="#000" stroke-width="1.8" />
<line x1="669.15" y1="797.2" x2="698.85" y2="797.2" stroke="#000" stroke-width="1.8" />
<line x1="760.8" y1="656.2" x2="760.8" y2="695.2" stroke="#ff0000" stroke-width="1.8" />
<line x1="745.9" y1="656.2" x2="775.7" y2="656.2" stroke="#ff0000" stroke-width="1.8" />
<line x1="837.7" y1="776.3" x2="837.7" y2="783.3" stroke="#137a92" stroke-width="1.8" />
<line x1="823.15" y1="776.3" x2="852.25" y2="776.3" stroke="#137a92" stroke-width="1.8" />
<circle cx="664.6" cy="791.9" r="4.6" fill="#fff" stroke="#a0a0a0" stroke-width="1.8"/>
<circle cx="684.3" cy="792.4" r="4.6" fill="#fff" stroke="#a0a0a0" stroke-width="1.8"/>
<circle cx="702.4" cy="791.9" r="4.6" fill="#fff" stroke="#a0a0a0" stroke-width="1.8"/>
<circle cx="664.6" cy="811" r="4.6" fill="#fff" stroke="#a0a0a0" stroke-width="1.8"/>
<circle cx="702.4" cy="811" r="4.6" fill="#fff" stroke="#a0a0a0" stroke-width="1.8"/>
<circle cx="684.3" cy="804.9" r="4.6" fill="#fff" stroke="#a0a0a0" stroke-width="1.8"/>
<circle cx="760.7" cy="589" r="4.6" fill="#fff" stroke="#a0a0a0" stroke-width="1.8"/>
<circle cx="760.7" cy="684.6" r="4.6" fill="#fff" stroke="#a0a0a0" stroke-width="1.8"/>
<circle cx="760.7" cy="747.4" r="4.6" fill="#fff" stroke="#a0a0a0" stroke-width="1.8"/>
<circle cx="760.7" cy="757.7" r="4.6" fill="#fff" stroke="#a0a0a0" stroke-width="1.8"/>
<circle cx="837.7" cy="770.3" r="4.6" fill="#fff" stroke="#a0a0a0" stroke-width="1.8"/>
<circle cx="819.1" cy="793.3" r="4.6" fill="#fff" stroke="#a0a0a0" stroke-width="1.8"/>
<circle cx="856.3" cy="784.6" r="4.6" fill="#fff" stroke="#a0a0a0" stroke-width="1.8"/>
<text x="684" y="828.6" font-size="19" text-anchor="middle" fill="#fff">6</text>
<text x="760.8" y="828.6" font-size="19" text-anchor="middle" fill="#300000">4</text>
<text x="837.7" y="828.6" font-size="19" text-anchor="middle" fill="#00161e">3</text>
<line x1="637" y1="526.9" x2="637" y2="837.8" stroke="#000" stroke-width="1.8" />
<line x1="629.3" y1="836.9" x2="637" y2="836.9" stroke="#000" stroke-width="1.8" />
<text x="626" y="844.94" font-size="24" text-anchor="end">0</text>
<line x1="629.3" y1="733.87" x2="637" y2="733.87" stroke="#000" stroke-width="1.8" />
<text x="626" y="741.91" font-size="24" text-anchor="end">400</text>
<line x1="629.3" y1="630.83" x2="637" y2="630.83" stroke="#000" stroke-width="1.8" />
<text x="626" y="638.87" font-size="24" text-anchor="end">800</text>
<line x1="629.3" y1="527.8" x2="637" y2="527.8" stroke="#000" stroke-width="1.8" />
<text x="626" y="535.84" font-size="24" text-anchor="end">1200</text>
<line x1="629.3" y1="836.9" x2="884.1" y2="836.9" stroke="#000" stroke-width="1.9" />
<path d="M688.5,725.7 V527.6 H759.9 V547.3" stroke="#000" stroke-width="1.9" fill="none" />
<text x="717.4" y="511.5" font-size="20" text-anchor="middle">*</text>
<path d="M688.5,504.8 V485.3 H828 V504.8" stroke="#000" stroke-width="1.9" fill="none" />
<text x="763.5" y="467.8" font-size="22.3" text-anchor="middle">n.s.</text>
<text x="544" y="761.2" font-size="25.4" transform="rotate(-90 544 761.2)">Aβ<tspan font-size="18" dy="5.8">1-42</tspan><tspan dy="-5.8"> (pg/ml)</tspan></text>
<text x="933.9" y="456.6" font-size="39">F</text>
<rect x="1055.2" y="692.9" width="18.5" height="154.9" fill="#000" rx="0" />
<rect x="1078.6" y="757.2" width="18.8" height="90.6" fill="#000" rx="0" />
<rect x="1101.9" y="786" width="18.8" height="61.8" fill="#000" rx="0" />
<rect x="1135.3" y="668" width="18.8" height="179.8" fill="#ff0000" rx="0" />
<rect x="1158.6" y="713.5" width="18.5" height="134.3" fill="#ff0000" rx="0" />
<rect x="1182" y="745" width="18.5" height="102.8" fill="#ff0000" rx="0" />
<rect x="1215" y="690.8" width="18.5" height="157" fill="#137a92" rx="0" />
<rect x="1238.4" y="732.9" width="18.8" height="114.9" fill="#137a92" rx="0" />
<rect x="1262" y="813.6" width="18.8" height="34.2" fill="#137a92" rx="0" />
<line x1="1064.45" y1="676.6" x2="1064.45" y2="692.9" stroke="#000" stroke-width="1.8" />
<line x1="1059.7" y1="676.6" x2="1069.2" y2="676.6" stroke="#000" stroke-width="1.8" />
<line x1="1088" y1="742.9" x2="1088" y2="757.2" stroke="#000" stroke-width="1.8" />
<line x1="1083.25" y1="742.9" x2="1092.75" y2="742.9" stroke="#000" stroke-width="1.8" />
<line x1="1111.3" y1="772.6" x2="1111.3" y2="786" stroke="#000" stroke-width="1.8" />
<line x1="1106.55" y1="772.6" x2="1116.05" y2="772.6" stroke="#000" stroke-width="1.8" />
<line x1="1144.7" y1="657.7" x2="1144.7" y2="668" stroke="#ff0000" stroke-width="1.8" />
<line x1="1139.95" y1="657.7" x2="1149.45" y2="657.7" stroke="#ff0000" stroke-width="1.8" />
<line x1="1167.85" y1="696.8" x2="1167.85" y2="713.5" stroke="#ff0000" stroke-width="1.8" />
<line x1="1163.1" y1="696.8" x2="1172.6" y2="696.8" stroke="#ff0000" stroke-width="1.8" />
<line x1="1191.25" y1="728.4" x2="1191.25" y2="745" stroke="#ff0000" stroke-width="1.8" />
<line x1="1186.5" y1="728.4" x2="1196" y2="728.4" stroke="#ff0000" stroke-width="1.8" />
<line x1="1224.25" y1="676.6" x2="1224.25" y2="690.8" stroke="#137a92" stroke-width="1.8" />
<line x1="1219.5" y1="676.6" x2="1229" y2="676.6" stroke="#137a92" stroke-width="1.8" />
<line x1="1247.8" y1="712.9" x2="1247.8" y2="732.9" stroke="#137a92" stroke-width="1.8" />
<line x1="1243.05" y1="712.9" x2="1252.55" y2="712.9" stroke="#137a92" stroke-width="1.8" />
<line x1="1271.4" y1="808.7" x2="1271.4" y2="813.6" stroke="#137a92" stroke-width="1.8" />
<line x1="1266.65" y1="808.7" x2="1276.15" y2="808.7" stroke="#137a92" stroke-width="1.8" />
<circle cx="1064.45" cy="626.2" r="3.4" fill="#fff" stroke="#a0a0a0" stroke-width="1.6"/>
<circle cx="1064.45" cy="630.7" r="3.4" fill="#fff" stroke="#a0a0a0" stroke-width="1.6"/>
<circle cx="1064.45" cy="637.4" r="3.4" fill="#fff" stroke="#a0a0a0" stroke-width="1.6"/>
<circle cx="1064.45" cy="702.6" r="3.4" fill="#fff" stroke="#a0a0a0" stroke-width="1.6"/>
<circle cx="1064.45" cy="713.5" r="3.4" fill="#fff" stroke="#a0a0a0" stroke-width="1.6"/>
<circle cx="1064.45" cy="717.1" r="3.4" fill="#fff" stroke="#a0a0a0" stroke-width="1.6"/>
<circle cx="1064.45" cy="746" r="3.4" fill="#fff" stroke="#a0a0a0" stroke-width="1.6"/>
<circle cx="1064.45" cy="759" r="3.4" fill="#fff" stroke="#a0a0a0" stroke-width="1.6"/>
<circle cx="1064.45" cy="778.4" r="3.4" fill="#fff" stroke="#a0a0a0" stroke-width="1.6"/>
<circle cx="1088" cy="703.5" r="3.4" fill="#fff" stroke="#a0a0a0" stroke-width="1.6"/>
<circle cx="1088" cy="706.5" r="3.4" fill="#fff" stroke="#a0a0a0" stroke-width="1.6"/>
<circle cx="1088" cy="710.5" r="3.4" fill="#fff" stroke="#a0a0a0" stroke-width="1.6"/>
<circle cx="1088" cy="728.7" r="3.4" fill="#fff" stroke="#a0a0a0" stroke-width="1.6"/>
<circle cx="1088" cy="746" r="3.4" fill="#fff" stroke="#a0a0a0" stroke-width="1.6"/>
<circle cx="1088" cy="786.9" r="3.4" fill="#fff" stroke="#a0a0a0" stroke-width="1.6"/>
<circle cx="1088" cy="801.1" r="3.4" fill="#fff" stroke="#a0a0a0" stroke-width="1.6"/>
<circle cx="1088" cy="824.2" r="3.4" fill="#fff" stroke="#a0a0a0" stroke-width="1.6"/>
<circle cx="1111.3" cy="683.2" r="3.4" fill="#fff" stroke="#a0a0a0" stroke-width="1.6"/>
<circle cx="1111.3" cy="739.9" r="3.4" fill="#fff" stroke="#a0a0a0" stroke-width="1.6"/>
<circle cx="1111.3" cy="758.1" r="3.4" fill="#fff" stroke="#a0a0a0" stroke-width="1.6"/>
<circle cx="1111.3" cy="780.8" r="3.4" fill="#fff" stroke="#a0a0a0" stroke-width="1.6"/>
<circle cx="1111.3" cy="802.7" r="3.4" fill="#fff" stroke="#a0a0a0" stroke-width="1.6"/>
<circle cx="1111.3" cy="806.6" r="3.4" fill="#fff" stroke="#a0a0a0" stroke-width="1.6"/>
<circle cx="1111.3" cy="811.2" r="3.4" fill="#fff" stroke="#a0a0a0" stroke-width="1.6"/>
<circle cx="1111.3" cy="815.7" r="3.4" fill="#fff" stroke="#a0a0a0" stroke-width="1.6"/>
<circle cx="1111.3" cy="826.3" r="3.4" fill="#fff" stroke="#a0a0a0" stroke-width="1.6"/>
<circle cx="1144.7" cy="615.6" r="3.4" fill="#fff" stroke="#a0a0a0" stroke-width="1.6"/>
<circle cx="1144.7" cy="632.9" r="3.4" fill="#fff" stroke="#a0a0a0" stroke-width="1.6"/>
<circle cx="1144.7" cy="638.9" r="3.4" fill="#fff" stroke="#a0a0a0" stroke-width="1.6"/>
<circle cx="1144.7" cy="646.8" r="3.4" fill="#fff" stroke="#a0a0a0" stroke-width="1.6"/>
<circle cx="1144.7" cy="651" r="3.4" fill="#fff" stroke="#a0a0a0" stroke-width="1.6"/>
<circle cx="1144.7" cy="672.3" r="3.4" fill="#fff" stroke="#a0a0a0" stroke-width="1.6"/>
<circle cx="1144.7" cy="679.2" r="3.4" fill="#fff" stroke="#a0a0a0" stroke-width="1.6"/>
<circle cx="1144.7" cy="688.3" r="3.4" fill="#fff" stroke="#a0a0a0" stroke-width="1.6"/>
<circle cx="1144.7" cy="706.5" r="3.4" fill="#fff" stroke="#a0a0a0" stroke-width="1.6"/>
<circle cx="1144.7" cy="741.4" r="3.4" fill="#fff" stroke="#a0a0a0" stroke-width="1.6"/>
<circle cx="1167.85" cy="629.2" r="3.4" fill="#fff" stroke="#a0a0a0" stroke-width="1.6"/>
<circle cx="1167.85" cy="642" r="3.4" fill="#fff" stroke="#a0a0a0" stroke-width="1.6"/>
<circle cx="1167.85" cy="671.1" r="3.4" fill="#fff" stroke="#a0a0a0" stroke-width="1.6"/>
<circle cx="1167.85" cy="680.8" r="3.4" fill="#fff" stroke="#a0a0a0" stroke-width="1.6"/>
<circle cx="1167.85" cy="692.9" r="3.4" fill="#fff" stroke="#a0a0a0" stroke-width="1.6"/>
<circle cx="1167.85" cy="715.6" r="3.4" fill="#fff" stroke="#a0a0a0" stroke-width="1.6"/>
<circle cx="1167.85" cy="723.2" r="3.4" fill="#fff" stroke="#a0a0a0" stroke-width="1.6"/>
<circle cx="1167.85" cy="743.8" r="3.4" fill="#fff" stroke="#a0a0a0" stroke-width="1.6"/>
<circle cx="1167.85" cy="776.3" r="3.4" fill="#fff" stroke="#a0a0a0" stroke-width="1.6"/>
<circle cx="1167.85" cy="780.2" r="3.4" fill="#fff" stroke="#a0a0a0" stroke-width="1.6"/>
<circle cx="1167.85" cy="799" r="3.4" fill="#fff" stroke="#a0a0a0" stroke-width="1.6"/>
<circle cx="1191.25" cy="671.1" r="3.4" fill="#fff" stroke="#a0a0a0" stroke-width="1.6"/>
<circle cx="1191.25" cy="676.2" r="3.4" fill="#fff" stroke="#a0a0a0" stroke-width="1.6"/>
<circle cx="1191.25" cy="679.2" r="3.4" fill="#fff" stroke="#a0a0a0" stroke-width="1.6"/>
<circle cx="1191.25" cy="699" r="3.4" fill="#fff" stroke="#a0a0a0" stroke-width="1.6"/>
<circle cx="1191.25" cy="706.5" r="3.4" fill="#fff" stroke="#a0a0a0" stroke-width="1.6"/>
<circle cx="1191.25" cy="736.9" r="3.4" fill="#fff" stroke="#a0a0a0" stroke-width="1.6"/>
<circle cx="1191.25" cy="767.2" r="3.4" fill="#fff" stroke="#a0a0a0" stroke-width="1.6"/>
<circle cx="1191.25" cy="770.2" r="3.4" fill="#fff" stroke="#a0a0a0" stroke-width="1.6"/>
<circle cx="1191.25" cy="791.4" r="3.4" fill="#fff" stroke="#a0a0a0" stroke-width="1.6"/>
<circle cx="1191.25" cy="800.5" r="3.4" fill="#fff" stroke="#a0a0a0" stroke-width="1.6"/>
<circle cx="1191.25" cy="817.2" r="3.4" fill="#fff" stroke="#a0a0a0" stroke-width="1.6"/>
<circle cx="1224.25" cy="624.1" r="3.4" fill="#fff" stroke="#a0a0a0" stroke-width="1.6"/>
<circle cx="1224.25" cy="635.3" r="3.4" fill="#fff" stroke="#a0a0a0" stroke-width="1.6"/>
<circle cx="1224.25" cy="685.3" r="3.4" fill="#fff" stroke="#a0a0a0" stroke-width="1.6"/>
<circle cx="1224.25" cy="696.5" r="3.4" fill="#fff" stroke="#a0a0a0" stroke-width="1.6"/>
<circle cx="1224.25" cy="704.4" r="3.4" fill="#fff" stroke="#a0a0a0" stroke-width="1.6"/>
<circle cx="1224.25" cy="719.6" r="3.4" fill="#fff" stroke="#a0a0a0" stroke-width="1.6"/>
<circle cx="1224.25" cy="752.6" r="3.4" fill="#fff" stroke="#a0a0a0" stroke-width="1.6"/>
<circle cx="1247.8" cy="617.1" r="3.4" fill="#fff" stroke="#a0a0a0" stroke-width="1.6"/>
<circle cx="1247.8" cy="695" r="3.4" fill="#fff" stroke="#a0a0a0" stroke-width="1.6"/>
<circle cx="1247.8" cy="729.3" r="3.4" fill="#fff" stroke="#a0a0a0" stroke-width="1.6"/>
<circle cx="1247.8" cy="733.8" r="3.4" fill="#fff" stroke="#a0a0a0" stroke-width="1.6"/>
<circle cx="1247.8" cy="746" r="3.4" fill="#fff" stroke="#a0a0a0" stroke-width="1.6"/>
<circle cx="1247.8" cy="766.3" r="3.4" fill="#fff" stroke="#a0a0a0" stroke-width="1.6"/>
<circle cx="1247.8" cy="788.4" r="3.4" fill="#fff" stroke="#a0a0a0" stroke-width="1.6"/>
<circle cx="1271.4" cy="792.3" r="3.4" fill="#fff" stroke="#a0a0a0" stroke-width="1.6"/>
<circle cx="1271.4" cy="802.7" r="3.4" fill="#fff" stroke="#a0a0a0" stroke-width="1.6"/>
<circle cx="1271.4" cy="826.3" r="3.4" fill="#fff" stroke="#a0a0a0" stroke-width="1.6"/>
<circle cx="1218.7" cy="705" r="3.4" fill="#fff" stroke="#a0a0a0" stroke-width="1.6"/>
<circle cx="1242" cy="729.3" r="3.4" fill="#fff" stroke="#a0a0a0" stroke-width="1.6"/>
<circle cx="1242" cy="788.4" r="3.4" fill="#fff" stroke="#a0a0a0" stroke-width="1.6"/>
<circle cx="1254" cy="787.5" r="3.4" fill="#fff" stroke="#a0a0a0" stroke-width="1.6"/>
<circle cx="1265.6" cy="797.5" r="3.4" fill="#fff" stroke="#a0a0a0" stroke-width="1.6"/>
<circle cx="1265.6" cy="814.2" r="3.4" fill="#fff" stroke="#a0a0a0" stroke-width="1.6"/>
<circle cx="1277.8" cy="817.2" r="3.4" fill="#fff" stroke="#a0a0a0" stroke-width="1.6"/>
<circle cx="1271.4" cy="820.2" r="3.4" fill="#fff" stroke="#a0a0a0" stroke-width="1.6"/>
<circle cx="1278.2" cy="826.3" r="3.4" fill="#fff" stroke="#a0a0a0" stroke-width="1.6"/>
<circle cx="1265.6" cy="833" r="3.4" fill="#fff" stroke="#a0a0a0" stroke-width="1.6"/>
<text x="1064.45" y="842" font-size="17.7" text-anchor="middle" fill="#fff">11</text>
<text x="1088" y="842" font-size="17.7" text-anchor="middle" fill="#fff">11</text>
<text x="1111.3" y="842" font-size="17.7" text-anchor="middle" fill="#fff">11</text>
<text x="1144.7" y="842" font-size="17.7" text-anchor="middle" fill="#fff">12</text>
<text x="1167.85" y="842" font-size="17.7" text-anchor="middle" fill="#fff">12</text>
<text x="1191.25" y="842" font-size="17.7" text-anchor="middle" fill="#fff">12</text>
<text x="1224.25" y="842" font-size="17.7" text-anchor="middle" fill="#fff">8</text>
<text x="1247.8" y="842" font-size="17.7" text-anchor="middle" fill="#fff">8</text>
<text x="1271.4" y="842" font-size="17.7" text-anchor="middle" fill="#fff">8</text>
<line x1="1041" y1="527.7" x2="1041" y2="848.7" stroke="#000" stroke-width="1.8" />
<line x1="1032" y1="847.8" x2="1041" y2="847.8" stroke="#000" stroke-width="1.8" />
<text x="1028.9" y="856.21" font-size="25.1" text-anchor="end">0</text>
<line x1="1032" y1="768" x2="1041" y2="768" stroke="#000" stroke-width="1.8" />
<text x="1028.9" y="776.41" font-size="25.1" text-anchor="end">20</text>
<line x1="1032" y1="688.2" x2="1041" y2="688.2" stroke="#000" stroke-width="1.8" />
<text x="1028.9" y="696.61" font-size="25.1" text-anchor="end">40</text>
<line x1="1032" y1="608.4" x2="1041" y2="608.4" stroke="#000" stroke-width="1.8" />
<text x="1028.9" y="616.81" font-size="25.1" text-anchor="end">60</text>
<line x1="1032" y1="528.6" x2="1041" y2="528.6" stroke="#000" stroke-width="1.8" />
<text x="1028.9" y="537.01" font-size="25.1" text-anchor="end">80</text>
<line x1="1032.2" y1="847.8" x2="1296" y2="847.8" stroke="#000" stroke-width="1.9" />
<text x="1068.95" y="873.5" font-size="18.3" text-anchor="end" transform="rotate(-45 1068.95 873.5)">D1</text>
<text x="1092.5" y="873.5" font-size="18.3" text-anchor="end" transform="rotate(-45 1092.5 873.5)">D2</text>
<text x="1115.8" y="873.5" font-size="18.3" text-anchor="end" transform="rotate(-45 1115.8 873.5)">D3</text>
<text x="1149.2" y="873.5" font-size="18.3" text-anchor="end" transform="rotate(-45 1149.2 873.5)">D1</text>
<text x="1172.35" y="873.5" font-size="18.3" text-anchor="end" transform="rotate(-45 1172.35 873.5)">D2</text>
<text x="1195.75" y="873.5" font-size="18.3" text-anchor="end" transform="rotate(-45 1195.75 873.5)">D3</text>
<text x="1228.75" y="873.5" font-size="18.3" text-anchor="end" transform="rotate(-45 1228.75 873.5)">D1</text>
<text x="1252.3" y="873.5" font-size="18.3" text-anchor="end" transform="rotate(-45 1252.3 873.5)">D2</text>
<text x="1275.9" y="873.5" font-size="18.3" text-anchor="end" transform="rotate(-45 1275.9 873.5)">D3</text>
<text x="974" y="860" font-size="26.7" transform="rotate(-90 974 860)">Latency (s) to reach platform</text>
<rect x="1493.1" y="693.2" width="64.1" height="154.9" fill="#000" rx="0" />
<rect x="1572.4" y="683.6" width="64.3" height="164.5" fill="#ff0000" rx="0" />
<rect x="1652" y="692.7" width="64.4" height="155.4" fill="#137a92" rx="0" />
<line x1="1525.2" y1="687.2" x2="1525.2" y2="693.2" stroke="#000" stroke-width="1.8" />
<line x1="1513.2" y1="687.2" x2="1537.2" y2="687.2" stroke="#000" stroke-width="1.8" />
<line x1="1604.6" y1="678.8" x2="1604.6" y2="688.5" stroke="#ff0000" stroke-width="1.8" />
<line x1="1589.1" y1="678.8" x2="1620.1" y2="678.8" stroke="#ff0000" stroke-width="1.8" />
<line x1="1589.1" y1="688.5" x2="1620.1" y2="688.5" stroke="#ff0000" stroke-width="1.8" />
<line x1="1684.2" y1="690.8" x2="1684.2" y2="692.7" stroke="#137a92" stroke-width="1.8" />
<line x1="1668.7" y1="690.8" x2="1699.7" y2="690.8" stroke="#137a92" stroke-width="1.8" />
<circle cx="1498.4" cy="681.2" r="4.6" fill="#fff" stroke="#a0a0a0" stroke-width="1.8"/>
<circle cx="1515.9" cy="668" r="4.6" fill="#fff" stroke="#a0a0a0" stroke-width="1.8"/>
<circle cx="1515.9" cy="678.8" r="4.6" fill="#fff" stroke="#a0a0a0" stroke-width="1.8"/>
<circle cx="1515.9" cy="692" r="4.6" fill="#fff" stroke="#a0a0a0" stroke-width="1.8"/>
<circle cx="1515.9" cy="703.6" r="4.6" fill="#fff" stroke="#a0a0a0" stroke-width="1.8"/>
<circle cx="1515.9" cy="717.2" r="4.6" fill="#fff" stroke="#a0a0a0" stroke-width="1.8"/>
<circle cx="1515.9" cy="726.8" r="4.6" fill="#fff" stroke="#a0a0a0" stroke-width="1.8"/>
<circle cx="1534.4" cy="675.2" r="4.6" fill="#fff" stroke="#a0a0a0" stroke-width="1.8"/>
<circle cx="1534.4" cy="694.4" r="4.6" fill="#fff" stroke="#a0a0a0" stroke-width="1.8"/>
<circle cx="1534.4" cy="706.9" r="4.6" fill="#fff" stroke="#a0a0a0" stroke-width="1.8"/>
<circle cx="1552.4" cy="679.5" r="4.6" fill="#fff" stroke="#a0a0a0" stroke-width="1.8"/>
<circle cx="1576.4" cy="687.2" r="4.6" fill="#fff" stroke="#a0a0a0" stroke-width="1.8"/>
<circle cx="1586" cy="672.8" r="4.6" fill="#fff" stroke="#a0a0a0" stroke-width="1.8"/>
<circle cx="1595.6" cy="665.6" r="4.6" fill="#fff" stroke="#a0a0a0" stroke-width="1.8"/>
<circle cx="1605.2" cy="659.6" r="4.6" fill="#fff" stroke="#a0a0a0" stroke-width="1.8"/>
<circle cx="1595.6" cy="675.2" r="4.6" fill="#fff" stroke="#a0a0a0" stroke-width="1.8"/>
<circle cx="1605.2" cy="688.4" r="4.6" fill="#fff" stroke="#a0a0a0" stroke-width="1.8"/>
<circle cx="1613.6" cy="689.6" r="4.6" fill="#fff" stroke="#a0a0a0" stroke-width="1.8"/>
<circle cx="1622" cy="686" r="4.6" fill="#fff" stroke="#a0a0a0" stroke-width="1.8"/>
<circle cx="1631.6" cy="686" r="4.6" fill="#fff" stroke="#a0a0a0" stroke-width="1.8"/>
<circle cx="1605.2" cy="707.6" r="4.6" fill="#fff" stroke="#a0a0a0" stroke-width="1.8"/>
<circle cx="1586" cy="687.2" r="4.6" fill="#fff" stroke="#a0a0a0" stroke-width="1.8"/>
<circle cx="1595.6" cy="688.4" r="4.6" fill="#fff" stroke="#a0a0a0" stroke-width="1.8"/>
<circle cx="1657.3" cy="686" r="4.6" fill="#fff" stroke="#a0a0a0" stroke-width="1.8"/>
<circle cx="1657.3" cy="695.6" r="4.6" fill="#fff" stroke="#a0a0a0" stroke-width="1.8"/>
<circle cx="1675.3" cy="693.2" r="4.6" fill="#fff" stroke="#a0a0a0" stroke-width="1.8"/>
<circle cx="1675.3" cy="707.6" r="4.6" fill="#fff" stroke="#a0a0a0" stroke-width="1.8"/>
<circle cx="1693.6" cy="686" r="4.6" fill="#fff" stroke="#a0a0a0" stroke-width="1.8"/>
<circle cx="1693.6" cy="698" r="4.6" fill="#fff" stroke="#a0a0a0" stroke-width="1.8"/>
<circle cx="1711.6" cy="685.3" r="4.6" fill="#fff" stroke="#a0a0a0" stroke-width="1.8"/>
<circle cx="1711.6" cy="695.6" r="4.6" fill="#fff" stroke="#a0a0a0" stroke-width="1.8"/>
<text x="1525.2" y="838.5" font-size="17.5" text-anchor="middle" fill="#fff">11</text>
<text x="1604.6" y="838.5" font-size="17.5" text-anchor="middle" fill="#3a0000">12</text>
<text x="1684.2" y="838.5" font-size="17.5" text-anchor="middle" fill="#062c36">8</text>
<line x1="1477.6" y1="528.4" x2="1477.6" y2="849" stroke="#000" stroke-width="1.8" />
<line x1="1468.9" y1="848.1" x2="1477.6" y2="848.1" stroke="#000" stroke-width="1.8" />
<text x="1465.5" y="856.51" font-size="25.1" text-anchor="end">0</text>
<line x1="1468.9" y1="768.4" x2="1477.6" y2="768.4" stroke="#000" stroke-width="1.8" />
<text x="1465.5" y="776.81" font-size="25.1" text-anchor="end">10</text>
<line x1="1468.9" y1="688.7" x2="1477.6" y2="688.7" stroke="#000" stroke-width="1.8" />
<text x="1465.5" y="697.11" font-size="25.1" text-anchor="end">20</text>
<line x1="1468.9" y1="609" x2="1477.6" y2="609" stroke="#000" stroke-width="1.8" />
<text x="1465.5" y="617.41" font-size="25.1" text-anchor="end">30</text>
<line x1="1468.9" y1="529.3" x2="1477.6" y2="529.3" stroke="#000" stroke-width="1.8" />
<text x="1465.5" y="537.71" font-size="25.1" text-anchor="end">40</text>
<line x1="1468.9" y1="848.1" x2="1732.5" y2="848.1" stroke="#000" stroke-width="1.9" />
<path d="M1541.9,622.9 V602.7 H1685.2 V622.9" stroke="#000" stroke-width="1.9" fill="none" />
<text x="1619.6" y="585.9" font-size="22.3" text-anchor="middle">n.s.</text>
<rect x="1710.2" y="540.3" width="31.7" height="22.6" fill="#000" rx="1.5" />
<rect x="1710.2" y="571.2" width="31.7" height="22.4" fill="#ff0000" rx="1.5" />
<rect x="1710.2" y="602" width="31.7" height="22.1" fill="#137a92" rx="1.5" />
<text x="1757" y="557.9" font-size="23.5">vGFP</text>
<text x="1757" y="588.7" font-size="23.5">vAPP</text>
<text x="1757" y="623.6" font-size="23.5">vAPP<tspan font-size="17" dy="-12">MV</tspan></text>
<text x="1408.5" y="783.2" font-size="27" transform="rotate(-90 1408.5 783.2)">Speed (cm/sec)</text>
<text x="2.1" y="961" font-size="39">G</text>
<text x="329.5" y="910.5" font-size="23.5" fill="#222" textLength="127" lengthAdjust="spacingAndGlyphs">TAT peptide</text>
<text x="40" y="1001.8" font-size="17.5" fill="#333" stroke="#333" stroke-width="0.5">WT</text>
<use href="#mouseb" transform="translate(82.3 984) scale(1)"/>
<text x="167.5" y="953.4" font-size="15.5" fill="#333" stroke="#333" stroke-width="0.5">vAPP</text>
<use href="#brain" transform="translate(148.7 976.8) scale(0.73 0.73)"/>
<rect x="173.2" y="964.4" width="3.6" height="20.8" rx="1.8" fill="#3a2a2e"/>
<rect x="174.3" y="967.4" width="1.4" height="9.36" fill="#8a7a80"/>
<rect x="194.8" y="964.4" width="3.6" height="20.8" rx="1.8" fill="#3a2a2e"/>
<rect x="195.9" y="967.4" width="1.4" height="9.36" fill="#8a7a80"/>
<g transform="translate(322 985) scale(1)"><use href="#pool"/><use href="#swim1"/><ellipse cx="5" cy="6" rx="5" ry="4" fill="#fff"/></g>
<g transform="translate(387 985) scale(1)"><use href="#pool"/><use href="#swim1"/><ellipse cx="5" cy="6" rx="5" ry="4" fill="#fff"/></g>
<g transform="translate(432.6 985) scale(1)"><use href="#pool"/><use href="#swim1"/><ellipse cx="5" cy="6" rx="5" ry="4" fill="#fff"/></g>
<g transform="translate(477.8 985) scale(1)"><use href="#pool"/><use href="#swim2"/></g>
<use href="#syr" transform="translate(318 959.5) scale(1.12)"/>
<use href="#syr" transform="translate(379 959.5) scale(1.12)"/>
<use href="#syr" transform="translate(427 959.5) scale(1.12)"/>
<path d="M411.3,1007.8 V1015.4 H497.6 V1007.8 M455,1015.4 V1024" stroke="#333" stroke-width="1.9" fill="none" />
<line x1="163.9" y1="1024.5" x2="478.4" y2="1024.5" stroke="#222" stroke-width="2.2" />
<line x1="187.2" y1="1023.5" x2="187.2" y2="1031" stroke="#222" stroke-width="2.2" />
<text x="186.6" y="1048" font-size="17" text-anchor="middle" fill="#333" stroke="#333" stroke-width="0.5">Day 0</text>
<line x1="254.2" y1="1023.5" x2="254.2" y2="1031" stroke="#222" stroke-width="2.2" />
<text x="253.6" y="1048" font-size="17" text-anchor="middle" fill="#333" stroke="#333" stroke-width="0.5">1</text>
<line x1="321.1" y1="1023.5" x2="321.1" y2="1031" stroke="#222" stroke-width="2.2" />
<text x="320.5" y="1048" font-size="17" text-anchor="middle" fill="#333" stroke="#333" stroke-width="0.5">2</text>
<line x1="387.6" y1="1023.5" x2="387.6" y2="1031" stroke="#222" stroke-width="2.2" />
<text x="387" y="1048" font-size="17" text-anchor="middle" fill="#333" stroke="#333" stroke-width="0.5">3</text>
<line x1="454.9" y1="1023.5" x2="454.9" y2="1031" stroke="#222" stroke-width="2.2" />
<text x="454.3" y="1048" font-size="17" text-anchor="middle" fill="#333" stroke="#333" stroke-width="0.5">4</text>
<rect x="173" y="1232" width="20.8" height="151.7" fill="#000" rx="0" />
<rect x="199.9" y="1347.7" width="20.2" height="36" fill="#000" rx="0" />
<rect x="236.2" y="1287.3" width="20.2" height="96.4" fill="#ff0000" rx="0" />
<rect x="262.2" y="1339.9" width="20.2" height="43.8" fill="#ff0000" rx="0" />
<rect x="298.2" y="1290.1" width="20.7" height="93.6" fill="#ff0000" rx="0" />
<rect x="324.8" y="1335.8" width="20.4" height="47.9" fill="#ff0000" rx="0" />
<rect x="360.7" y="1298.4" width="20.8" height="85.3" fill="#ff0000" rx="0" />
<rect x="386.8" y="1337.2" width="20.7" height="46.5" fill="#ff0000" rx="0" />
<rect x="423.6" y="1237.5" width="20.2" height="146.2" fill="#ff0000" rx="0" />
<rect x="449.9" y="1344.9" width="20.2" height="38.8" fill="#ff0000" rx="0" />
<text x="183.4" y="1374.5" font-size="16.5" text-anchor="middle" fill="#fff">8</text>
<text x="210" y="1374.5" font-size="16.5" text-anchor="middle" fill="#fff">8</text>
<text x="246.3" y="1374.5" font-size="16.5" text-anchor="middle" fill="#fff">8</text>
<text x="272.3" y="1374.5" font-size="16.5" text-anchor="middle" fill="#fff">8</text>
<text x="308.55" y="1374.5" font-size="16.5" text-anchor="middle" fill="#fff">8</text>
<text x="335" y="1374.5" font-size="16.5" text-anchor="middle" fill="#fff">8</text>
<text x="371.1" y="1374.5" font-size="16.5" text-anchor="middle" fill="#fff">7</text>
<text x="397.15" y="1374.5" font-size="16.5" text-anchor="middle" fill="#fff">7</text>
<text x="433.7" y="1374.5" font-size="16.5" text-anchor="middle" fill="#fff">8</text>
<text x="460" y="1374.5" font-size="16.5" text-anchor="middle" fill="#fff">8</text>
<circle cx="183.4" cy="1211.2" r="4.4" fill="#fff" stroke="#cdcdcd" stroke-width="1.6"/>
<circle cx="183.4" cy="1218.1" r="4.4" fill="#fff" stroke="#cdcdcd" stroke-width="1.6"/>
<circle cx="183.4" cy="1223.7" r="4.4" fill="#fff" stroke="#cdcdcd" stroke-width="1.6"/>
<circle cx="183.4" cy="1236.1" r="4.4" fill="#fff" stroke="#cdcdcd" stroke-width="1.6"/>
<circle cx="183.4" cy="1244.4" r="4.4" fill="#fff" stroke="#cdcdcd" stroke-width="1.6"/>
<circle cx="246.3" cy="1221.7" r="4.4" fill="#fff" stroke="#cdcdcd" stroke-width="1.6"/>
<circle cx="246.3" cy="1268" r="4.4" fill="#fff" stroke="#cdcdcd" stroke-width="1.6"/>
<circle cx="246.3" cy="1280.4" r="4.4" fill="#fff" stroke="#cdcdcd" stroke-width="1.6"/>
<circle cx="246.3" cy="1315" r="4.4" fill="#fff" stroke="#cdcdcd" stroke-width="1.6"/>
<circle cx="246.3" cy="1330.2" r="4.4" fill="#fff" stroke="#cdcdcd" stroke-width="1.6"/>
<circle cx="308.55" cy="1259.1" r="4.4" fill="#fff" stroke="#cdcdcd" stroke-width="1.6"/>
<circle cx="308.55" cy="1279.6" r="4.4" fill="#fff" stroke="#cdcdcd" stroke-width="1.6"/>
<circle cx="308.55" cy="1290.1" r="4.4" fill="#fff" stroke="#cdcdcd" stroke-width="1.6"/>
<circle cx="308.55" cy="1297" r="4.4" fill="#fff" stroke="#cdcdcd" stroke-width="1.6"/>
<circle cx="308.55" cy="1315" r="4.4" fill="#fff" stroke="#cdcdcd" stroke-width="1.6"/>
<circle cx="371.1" cy="1283.2" r="4.4" fill="#fff" stroke="#cdcdcd" stroke-width="1.6"/>
<circle cx="371.1" cy="1301.2" r="4.4" fill="#fff" stroke="#cdcdcd" stroke-width="1.6"/>
<circle cx="371.1" cy="1310.9" r="4.4" fill="#fff" stroke="#cdcdcd" stroke-width="1.6"/>
<circle cx="371.1" cy="1319.2" r="4.4" fill="#fff" stroke="#cdcdcd" stroke-width="1.6"/>
<circle cx="433.7" cy="1155.8" r="4.4" fill="#fff" stroke="#cdcdcd" stroke-width="1.6"/>
<circle cx="433.7" cy="1212.6" r="4.4" fill="#fff" stroke="#cdcdcd" stroke-width="1.6"/>
<circle cx="433.7" cy="1232" r="4.4" fill="#fff" stroke="#cdcdcd" stroke-width="1.6"/>
<circle cx="433.7" cy="1248.6" r="4.4" fill="#fff" stroke="#cdcdcd" stroke-width="1.6"/>
<circle cx="433.7" cy="1255.5" r="4.4" fill="#fff" stroke="#cdcdcd" stroke-width="1.6"/>
<circle cx="433.7" cy="1277.6" r="4.4" fill="#fff" stroke="#cdcdcd" stroke-width="1.6"/>
<circle cx="433.7" cy="1284.6" r="4.4" fill="#fff" stroke="#cdcdcd" stroke-width="1.6"/>
<rect x="206.2" y="1327.8" width="7.6" height="7.6" fill="#fff" stroke="#cdcdcd" stroke-width="1.6"/>
<rect x="206.2" y="1334.7" width="7.6" height="7.6" fill="#fff" stroke="#cdcdcd" stroke-width="1.6"/>
<rect x="206.2" y="1343" width="7.6" height="7.6" fill="#fff" stroke="#cdcdcd" stroke-width="1.6"/>
<rect x="206.2" y="1351.4" width="7.6" height="7.6" fill="#fff" stroke="#cdcdcd" stroke-width="1.6"/>
<rect x="206.2" y="1359.7" width="7.6" height="7.6" fill="#fff" stroke="#cdcdcd" stroke-width="1.6"/>
<rect x="206.2" y="1368" width="7.6" height="7.6" fill="#fff" stroke="#cdcdcd" stroke-width="1.6"/>
<rect x="268.5" y="1316.8" width="7.6" height="7.6" fill="#fff" stroke="#cdcdcd" stroke-width="1.6"/>
<rect x="268.5" y="1323.7" width="7.6" height="7.6" fill="#fff" stroke="#cdcdcd" stroke-width="1.6"/>
<rect x="268.5" y="1343" width="7.6" height="7.6" fill="#fff" stroke="#cdcdcd" stroke-width="1.6"/>
<rect x="268.5" y="1348.6" width="7.6" height="7.6" fill="#fff" stroke="#cdcdcd" stroke-width="1.6"/>
<rect x="268.5" y="1356.9" width="7.6" height="7.6" fill="#fff" stroke="#cdcdcd" stroke-width="1.6"/>
<rect x="268.5" y="1366.6" width="7.6" height="7.6" fill="#fff" stroke="#cdcdcd" stroke-width="1.6"/>
<rect x="331.2" y="1319.5" width="7.6" height="7.6" fill="#fff" stroke="#cdcdcd" stroke-width="1.6"/>
<rect x="331.2" y="1326.4" width="7.6" height="7.6" fill="#fff" stroke="#cdcdcd" stroke-width="1.6"/>
<rect x="331.2" y="1337.5" width="7.6" height="7.6" fill="#fff" stroke="#cdcdcd" stroke-width="1.6"/>
<rect x="331.2" y="1343" width="7.6" height="7.6" fill="#fff" stroke="#cdcdcd" stroke-width="1.6"/>
<rect x="331.2" y="1347.2" width="7.6" height="7.6" fill="#fff" stroke="#cdcdcd" stroke-width="1.6"/>
<rect x="393.35" y="1316.8" width="7.6" height="7.6" fill="#fff" stroke="#cdcdcd" stroke-width="1.6"/>
<rect x="393.35" y="1332" width="7.6" height="7.6" fill="#fff" stroke="#cdcdcd" stroke-width="1.6"/>
<rect x="393.35" y="1356.9" width="7.6" height="7.6" fill="#fff" stroke="#cdcdcd" stroke-width="1.6"/>
<rect x="393.35" y="1359.7" width="7.6" height="7.6" fill="#fff" stroke="#cdcdcd" stroke-width="1.6"/>
<rect x="456.2" y="1326.4" width="7.6" height="7.6" fill="#fff" stroke="#cdcdcd" stroke-width="1.6"/>
<rect x="456.2" y="1332" width="7.6" height="7.6" fill="#fff" stroke="#cdcdcd" stroke-width="1.6"/>
<rect x="456.2" y="1348.6" width="7.6" height="7.6" fill="#fff" stroke="#cdcdcd" stroke-width="1.6"/>
<rect x="456.2" y="1355.5" width="7.6" height="7.6" fill="#fff" stroke="#cdcdcd" stroke-width="1.6"/>
<line x1="183.4" y1="1227.3" x2="183.4" y2="1232" stroke="#000" stroke-width="1.9" />
<line x1="178.4" y1="1227.3" x2="188.4" y2="1227.3" stroke="#000" stroke-width="1.9" />
<line x1="210" y1="1343.5" x2="210" y2="1351.9" stroke="#000" stroke-width="1.9" />
<line x1="205" y1="1343.5" x2="215" y2="1343.5" stroke="#000" stroke-width="1.9" />
<line x1="205" y1="1351.9" x2="215" y2="1351.9" stroke="#000" stroke-width="1.9" />
<line x1="246.3" y1="1274" x2="246.3" y2="1287.3" stroke="#ff0000" stroke-width="1.9" />
<line x1="241.3" y1="1274" x2="251.3" y2="1274" stroke="#ff0000" stroke-width="1.9" />
<line x1="272.3" y1="1335" x2="272.3" y2="1344.8" stroke="#ff0000" stroke-width="1.9" />
<line x1="267.3" y1="1335" x2="277.3" y2="1335" stroke="#ff0000" stroke-width="1.9" />
<line x1="267.3" y1="1344.8" x2="277.3" y2="1344.8" stroke="#ff0000" stroke-width="1.9" />
<line x1="308.55" y1="1284" x2="308.55" y2="1290.1" stroke="#ff0000" stroke-width="1.9" />
<line x1="303.55" y1="1284" x2="313.55" y2="1284" stroke="#ff0000" stroke-width="1.9" />
<line x1="335" y1="1332.5" x2="335" y2="1339.1" stroke="#ff0000" stroke-width="1.9" />
<line x1="330" y1="1332.5" x2="340" y2="1332.5" stroke="#ff0000" stroke-width="1.9" />
<line x1="330" y1="1339.1" x2="340" y2="1339.1" stroke="#ff0000" stroke-width="1.9" />
<line x1="371.1" y1="1292.9" x2="371.1" y2="1298.4" stroke="#ff0000" stroke-width="1.9" />
<line x1="366.1" y1="1292.9" x2="376.1" y2="1292.9" stroke="#ff0000" stroke-width="1.9" />
<line x1="397.15" y1="1332.5" x2="397.15" y2="1341.9" stroke="#ff0000" stroke-width="1.9" />
<line x1="392.15" y1="1332.5" x2="402.15" y2="1332.5" stroke="#ff0000" stroke-width="1.9" />
<line x1="392.15" y1="1341.9" x2="402.15" y2="1341.9" stroke="#ff0000" stroke-width="1.9" />
<line x1="433.7" y1="1222.8" x2="433.7" y2="1237.5" stroke="#ff0000" stroke-width="1.9" />
<line x1="428.7" y1="1222.8" x2="438.7" y2="1222.8" stroke="#ff0000" stroke-width="1.9" />
<line x1="460" y1="1341.9" x2="460" y2="1347.9" stroke="#ff0000" stroke-width="1.9" />
<line x1="455" y1="1341.9" x2="465" y2="1341.9" stroke="#ff0000" stroke-width="1.9" />
<line x1="455" y1="1347.9" x2="465" y2="1347.9" stroke="#ff0000" stroke-width="1.9" />
<line x1="157.8" y1="1087.9" x2="157.8" y2="1384.6" stroke="#000" stroke-width="1.8" />
<line x1="149.5" y1="1383.7" x2="157.8" y2="1383.7" stroke="#000" stroke-width="1.8" />
<text x="146.5" y="1391.47" font-size="23.2" text-anchor="end">0</text>
<line x1="149.5" y1="1341.57" x2="157.8" y2="1341.57" stroke="#000" stroke-width="1.8" />
<text x="146.5" y="1349.34" font-size="23.2" text-anchor="end">10</text>
<line x1="149.5" y1="1299.44" x2="157.8" y2="1299.44" stroke="#000" stroke-width="1.8" />
<text x="146.5" y="1307.21" font-size="23.2" text-anchor="end">20</text>
<line x1="149.5" y1="1257.31" x2="157.8" y2="1257.31" stroke="#000" stroke-width="1.8" />
<text x="146.5" y="1265.09" font-size="23.2" text-anchor="end">30</text>
<line x1="149.5" y1="1215.19" x2="157.8" y2="1215.19" stroke="#000" stroke-width="1.8" />
<text x="146.5" y="1222.96" font-size="23.2" text-anchor="end">40</text>
<line x1="149.5" y1="1173.06" x2="157.8" y2="1173.06" stroke="#000" stroke-width="1.8" />
<text x="146.5" y="1180.83" font-size="23.2" text-anchor="end">50</text>
<line x1="149.5" y1="1130.93" x2="157.8" y2="1130.93" stroke="#000" stroke-width="1.8" />
<text x="146.5" y="1138.7" font-size="23.2" text-anchor="end">60</text>
<line x1="149.5" y1="1088.8" x2="157.8" y2="1088.8" stroke="#000" stroke-width="1.8" />
<text x="146.5" y="1096.57" font-size="23.2" text-anchor="end">70</text>
<line x1="149.5" y1="1383.7" x2="487.3" y2="1383.7" stroke="#000" stroke-width="1.9" />
<path d="M184.1,1175.8 V1164.1 H431.1 V1175.8" stroke="#000" stroke-width="1.9" fill="none" />
<text x="310" y="1147.5" font-size="22.3" text-anchor="middle">n.s.</text>
<text x="248.3" y="1248" font-size="20" text-anchor="middle">*</text>
<text x="310.6" y="1248" font-size="20" text-anchor="middle">*</text>
<text x="372.4" y="1248" font-size="20" text-anchor="middle">*</text>
<rect x="491.4" y="1106" width="23.6" height="15.8" fill="#000" rx="0" />
<rect x="491.4" y="1137.8" width="23.6" height="15.2" fill="#ff0000" rx="0" />
<text x="523.3" y="1121.4" font-size="24.8">GFP</text>
<text x="523.3" y="1153.9" font-size="24.8">vAPP</text>
<text x="98.3" y="1305.3" font-size="24.8" transform="rotate(-90 98.3 1305.3)">Percent time</text>
<text x="186" y="1413" font-size="25" text-anchor="middle">T</text>
<text x="212.5" y="1413" font-size="25" text-anchor="middle">O</text>
<text x="249.2" y="1413" font-size="25" text-anchor="middle">T</text>
<text x="275.8" y="1413" font-size="25" text-anchor="middle">O</text>
<text x="312.6" y="1413" font-size="25" text-anchor="middle">T</text>
<text x="339.2" y="1413" font-size="25" text-anchor="middle">O</text>
<text x="375" y="1413" font-size="25" text-anchor="middle">T</text>
<text x="401.5" y="1413" font-size="25" text-anchor="middle">O</text>
<text x="437.2" y="1413" font-size="25" text-anchor="middle">T</text>
<text x="463.8" y="1413" font-size="25" text-anchor="middle">O</text>
<rect x="171.7" y="1420.5" width="47.7" height="36.6" fill="none" stroke="#111" stroke-width="2" rx="0" />
<rect x="171.7" y="1461.4" width="47.7" height="36.5" fill="none" stroke="#111" stroke-width="2" rx="0" />
<rect x="171.7" y="1502.4" width="47.7" height="36.6" fill="none" stroke="#111" stroke-width="2" rx="0" />
<rect x="171.7" y="1544" width="47.7" height="36.5" fill="none" stroke="#111" stroke-width="2" rx="0" />
<rect x="236.8" y="1420.5" width="47.4" height="36.6" fill="none" stroke="#111" stroke-width="2" rx="0" />
<rect x="236.8" y="1461.4" width="47.4" height="36.5" fill="none" stroke="#111" stroke-width="2" rx="0" />
<rect x="236.8" y="1502.4" width="47.4" height="36.6" fill="none" stroke="#111" stroke-width="2" rx="0" />
<rect x="236.8" y="1544" width="47.4" height="36.5" fill="none" stroke="#111" stroke-width="2" rx="0" />
<rect x="299.8" y="1420.5" width="47.6" height="36.6" fill="none" stroke="#111" stroke-width="2" rx="0" />
<rect x="299.8" y="1461.4" width="47.6" height="36.5" fill="none" stroke="#111" stroke-width="2" rx="0" />
<rect x="299.8" y="1502.4" width="47.6" height="36.6" fill="none" stroke="#111" stroke-width="2" rx="0" />
<rect x="299.8" y="1544" width="47.6" height="36.5" fill="none" stroke="#111" stroke-width="2" rx="0" />
<rect x="362.6" y="1420.5" width="47.6" height="36.6" fill="none" stroke="#111" stroke-width="2" rx="0" />
<rect x="362.6" y="1461.4" width="47.6" height="36.5" fill="none" stroke="#111" stroke-width="2" rx="0" />
<rect x="362.6" y="1502.4" width="47.6" height="36.6" fill="none" stroke="#111" stroke-width="2" rx="0" />
<rect x="362.6" y="1544" width="47.6" height="36.5" fill="none" stroke="#111" stroke-width="2" rx="0" />
<rect x="424.4" y="1420.5" width="47.6" height="36.6" fill="none" stroke="#111" stroke-width="2" rx="0" />
<rect x="424.4" y="1461.4" width="47.6" height="36.5" fill="none" stroke="#111" stroke-width="2" rx="0" />
<rect x="424.4" y="1502.4" width="47.6" height="36.6" fill="none" stroke="#111" stroke-width="2" rx="0" />
<rect x="424.4" y="1544" width="47.6" height="36.5" fill="none" stroke="#111" stroke-width="2" rx="0" />
<text x="448.2" y="1446.8" font-size="22.3" text-anchor="middle">X</text>
<text x="386.4" y="1487.65" font-size="22.3" text-anchor="middle">X</text>
<text x="195.55" y="1528.7" font-size="22.3" text-anchor="middle">X</text>
<text x="323.6" y="1528.7" font-size="22.3" text-anchor="middle">X</text>
<text x="260.5" y="1570.25" font-size="22.3" text-anchor="middle">X</text>
<text x="161.6" y="1446.1" font-size="22.7" text-anchor="end">TAT-GluA2<tspan font-size="17.4" dy="5.2">3Y</tspan></text>
<text x="166.9" y="1488.7" font-size="22.7" text-anchor="end">TAT inactive</text>
<text x="162.4" y="1529.6" font-size="22.7" text-anchor="end">TAT-Cntrl</text>
<text x="166.1" y="1570" font-size="22.7" text-anchor="end">GluA2<tspan font-size="17.4" dy="5.2">3Y</tspan></text>
<text x="610" y="955.9" font-size="39">H</text>
<text x="824.8" y="940.2" font-size="17.5" fill="#333" textLength="94" lengthAdjust="spacingAndGlyphs" stroke="#333" stroke-width="0.5">TAT peptide</text>
<use href="#syr" transform="translate(836 981) scale(0.98)"/>
<use href="#syr" transform="translate(873.5 981) scale(0.98)"/>
<g transform="translate(838.7 1007) scale(0.83)"><use href="#pool"/><use href="#swim1"/><ellipse cx="5" cy="6" rx="5" ry="4" fill="#fff"/></g>
<g transform="translate(876.3 1007) scale(0.83)"><use href="#pool"/><use href="#swim1"/><ellipse cx="5" cy="6" rx="5" ry="4" fill="#fff"/></g>
<g transform="translate(915.3 1007) scale(0.83)"><use href="#pool"/><use href="#swim2"/></g>
<text x="719" y="1020.9" font-size="17.5" fill="#333" stroke="#333" stroke-width="0.5">WT</text>
<use href="#mouseb" transform="translate(753 1002.4) scale(0.88)"/>
<text x="693.2" y="1054.1" font-size="17.5" fill="#333" stroke="#333" stroke-width="0.5">5xFAD</text>
<use href="#mousew" transform="translate(753 1037.5) scale(0.88)"/>
<path d="M858.4,1026.4 V1032.9 H932.3 V1026.4 M894.8,1032.9 V1041" stroke="#333" stroke-width="1.9" fill="none" />
<line x1="817.8" y1="1041.8" x2="912.9" y2="1041.8" stroke="#222" stroke-width="2.4" />
<line x1="837.7" y1="1041" x2="837.7" y2="1047.7" stroke="#222" stroke-width="2.2" />
<line x1="894.8" y1="1041" x2="894.8" y2="1047.7" stroke="#222" stroke-width="2.2" />
<text x="815.6" y="1065.2" font-size="17.5" fill="#333" stroke="#333" stroke-width="0.5">Day 1</text>
<text x="894.8" y="1065.2" font-size="17.5" text-anchor="middle" fill="#333" stroke="#333" stroke-width="0.5">2</text>
<rect x="750.5" y="1320.6" width="24.7" height="136.2" fill="#a1a1a5" rx="0" />
<rect x="781.8" y="1420.1" width="24.7" height="36.7" fill="#a1a1a5" rx="0" />
<rect x="825.1" y="1302.1" width="24.7" height="154.7" fill="#ff6a00" rx="0" />
<rect x="856.1" y="1424.1" width="24.7" height="32.7" fill="#ff6a00" rx="0" />
<rect x="899.9" y="1373.2" width="24.7" height="83.6" fill="#ef1a8a" rx="0" />
<rect x="931" y="1407.7" width="24.6" height="49.1" fill="#ef1a8a" rx="0" />
<rect x="975.85" y="1324.95" width="21.9" height="132" fill="#fff" stroke="#ef1a8a" stroke-width="1.7" rx="0" />
<rect x="1006.85" y="1423.15" width="22.2" height="33.8" fill="#fff" stroke="#ef1a8a" stroke-width="1.7" rx="0" />
<circle cx="762.85" cy="1222" r="3.4" fill="#fff" stroke="#a0a0a0" stroke-width="1.5"/>
<circle cx="762.85" cy="1241.8" r="3.4" fill="#fff" stroke="#a0a0a0" stroke-width="1.5"/>
<circle cx="762.85" cy="1266.5" r="3.4" fill="#fff" stroke="#a0a0a0" stroke-width="1.5"/>
<circle cx="762.85" cy="1284.8" r="3.4" fill="#fff" stroke="#a0a0a0" stroke-width="1.5"/>
<circle cx="762.85" cy="1305" r="3.4" fill="#fff" stroke="#a0a0a0" stroke-width="1.5"/>
<circle cx="762.85" cy="1309.5" r="3.4" fill="#fff" stroke="#a0a0a0" stroke-width="1.5"/>
<circle cx="762.85" cy="1313.5" r="3.4" fill="#fff" stroke="#a0a0a0" stroke-width="1.5"/>
<circle cx="762.85" cy="1317.5" r="3.4" fill="#fff" stroke="#a0a0a0" stroke-width="1.5"/>
<circle cx="762.85" cy="1321.4" r="3.4" fill="#fff" stroke="#a0a0a0" stroke-width="1.5"/>
<circle cx="762.85" cy="1329.4" r="3.4" fill="#fff" stroke="#a0a0a0" stroke-width="1.5"/>
<circle cx="762.85" cy="1337.4" r="3.4" fill="#fff" stroke="#a0a0a0" stroke-width="1.5"/>
<circle cx="762.85" cy="1344.8" r="3.4" fill="#fff" stroke="#a0a0a0" stroke-width="1.5"/>
<circle cx="762.85" cy="1359.1" r="3.4" fill="#fff" stroke="#a0a0a0" stroke-width="1.5"/>
<circle cx="762.85" cy="1362.6" r="3.4" fill="#fff" stroke="#a0a0a0" stroke-width="1.5"/>
<circle cx="762.85" cy="1385.9" r="3.4" fill="#fff" stroke="#a0a0a0" stroke-width="1.5"/>
<circle cx="762.85" cy="1411.7" r="3.4" fill="#fff" stroke="#a0a0a0" stroke-width="1.5"/>
<circle cx="837.45" cy="1202" r="3.4" fill="#fff" stroke="#a0a0a0" stroke-width="1.5"/>
<circle cx="837.45" cy="1257.8" r="3.4" fill="#fff" stroke="#a0a0a0" stroke-width="1.5"/>
<circle cx="837.45" cy="1260.4" r="3.4" fill="#fff" stroke="#a0a0a0" stroke-width="1.5"/>
<circle cx="837.45" cy="1282.2" r="3.4" fill="#fff" stroke="#a0a0a0" stroke-width="1.5"/>
<circle cx="837.45" cy="1283.8" r="3.4" fill="#fff" stroke="#a0a0a0" stroke-width="1.5"/>
<circle cx="837.45" cy="1305.5" r="3.4" fill="#fff" stroke="#a0a0a0" stroke-width="1.5"/>
<circle cx="837.45" cy="1310.8" r="3.4" fill="#fff" stroke="#a0a0a0" stroke-width="1.5"/>
<circle cx="837.45" cy="1321.4" r="3.4" fill="#fff" stroke="#a0a0a0" stroke-width="1.5"/>
<circle cx="837.45" cy="1330.7" r="3.4" fill="#fff" stroke="#a0a0a0" stroke-width="1.5"/>
<circle cx="837.45" cy="1358.6" r="3.4" fill="#fff" stroke="#a0a0a0" stroke-width="1.5"/>
<circle cx="837.45" cy="1379.3" r="3.4" fill="#fff" stroke="#a0a0a0" stroke-width="1.5"/>
<circle cx="912.25" cy="1322" r="3.4" fill="#fff" stroke="#a0a0a0" stroke-width="1.5"/>
<circle cx="912.25" cy="1341.3" r="3.4" fill="#fff" stroke="#a0a0a0" stroke-width="1.5"/>
<circle cx="912.25" cy="1365.2" r="3.4" fill="#fff" stroke="#a0a0a0" stroke-width="1.5"/>
<circle cx="912.25" cy="1371.8" r="3.4" fill="#fff" stroke="#a0a0a0" stroke-width="1.5"/>
<circle cx="912.25" cy="1383.8" r="3.4" fill="#fff" stroke="#a0a0a0" stroke-width="1.5"/>
<circle cx="912.25" cy="1397" r="3.4" fill="#fff" stroke="#a0a0a0" stroke-width="1.5"/>
<circle cx="912.25" cy="1416.4" r="3.4" fill="#fff" stroke="#a0a0a0" stroke-width="1.5"/>
<circle cx="986.8" cy="1284.8" r="3.4" fill="#fff" stroke="#a0a0a0" stroke-width="1.5"/>
<circle cx="986.8" cy="1291.5" r="3.4" fill="#fff" stroke="#a0a0a0" stroke-width="1.5"/>
<circle cx="986.8" cy="1297.6" r="3.4" fill="#fff" stroke="#a0a0a0" stroke-width="1.5"/>
<circle cx="986.8" cy="1305" r="3.4" fill="#fff" stroke="#a0a0a0" stroke-width="1.5"/>
<circle cx="986.8" cy="1307.6" r="3.4" fill="#fff" stroke="#a0a0a0" stroke-width="1.5"/>
<circle cx="986.8" cy="1323.6" r="3.4" fill="#fff" stroke="#a0a0a0" stroke-width="1.5"/>
<circle cx="986.8" cy="1328.9" r="3.4" fill="#fff" stroke="#a0a0a0" stroke-width="1.5"/>
<circle cx="986.8" cy="1335.2" r="3.4" fill="#fff" stroke="#a0a0a0" stroke-width="1.5"/>
<circle cx="986.8" cy="1340.5" r="3.4" fill="#fff" stroke="#a0a0a0" stroke-width="1.5"/>
<circle cx="986.8" cy="1363.9" r="3.4" fill="#fff" stroke="#a0a0a0" stroke-width="1.5"/>
<circle cx="986.8" cy="1418.3" r="3.4" fill="#fff" stroke="#a0a0a0" stroke-width="1.5"/>
<rect x="791.05" y="1394.5" width="6.2" height="6.2" fill="#fff" stroke="#a0a0a0" stroke-width="1.5"/>
<rect x="791.05" y="1399.3" width="6.2" height="6.2" fill="#fff" stroke="#a0a0a0" stroke-width="1.5"/>
<rect x="791.05" y="1404.6" width="6.2" height="6.2" fill="#fff" stroke="#a0a0a0" stroke-width="1.5"/>
<rect x="791.05" y="1411.2" width="6.2" height="6.2" fill="#fff" stroke="#a0a0a0" stroke-width="1.5"/>
<rect x="791.05" y="1416.5" width="6.2" height="6.2" fill="#fff" stroke="#a0a0a0" stroke-width="1.5"/>
<rect x="791.05" y="1421" width="6.2" height="6.2" fill="#fff" stroke="#a0a0a0" stroke-width="1.5"/>
<rect x="791.05" y="1424.5" width="6.2" height="6.2" fill="#fff" stroke="#a0a0a0" stroke-width="1.5"/>
<rect x="865.35" y="1396.6" width="6.2" height="6.2" fill="#fff" stroke="#a0a0a0" stroke-width="1.5"/>
<rect x="865.35" y="1400.1" width="6.2" height="6.2" fill="#fff" stroke="#a0a0a0" stroke-width="1.5"/>
<rect x="865.35" y="1413.9" width="6.2" height="6.2" fill="#fff" stroke="#a0a0a0" stroke-width="1.5"/>
<rect x="865.35" y="1417.9" width="6.2" height="6.2" fill="#fff" stroke="#a0a0a0" stroke-width="1.5"/>
<rect x="865.35" y="1421.8" width="6.2" height="6.2" fill="#fff" stroke="#a0a0a0" stroke-width="1.5"/>
<rect x="865.35" y="1428.4" width="6.2" height="6.2" fill="#fff" stroke="#a0a0a0" stroke-width="1.5"/>
<rect x="865.35" y="1433.8" width="6.2" height="6.2" fill="#fff" stroke="#a0a0a0" stroke-width="1.5"/>
<rect x="940.2" y="1392.6" width="6.2" height="6.2" fill="#fff" stroke="#a0a0a0" stroke-width="1.5"/>
<rect x="940.2" y="1396.6" width="6.2" height="6.2" fill="#fff" stroke="#a0a0a0" stroke-width="1.5"/>
<rect x="940.2" y="1401.9" width="6.2" height="6.2" fill="#fff" stroke="#a0a0a0" stroke-width="1.5"/>
<rect x="940.2" y="1407.2" width="6.2" height="6.2" fill="#fff" stroke="#a0a0a0" stroke-width="1.5"/>
<rect x="940.2" y="1412.5" width="6.2" height="6.2" fill="#fff" stroke="#a0a0a0" stroke-width="1.5"/>
<rect x="940.2" y="1417.8" width="6.2" height="6.2" fill="#fff" stroke="#a0a0a0" stroke-width="1.5"/>
<rect x="1014.85" y="1400.1" width="6.2" height="6.2" fill="#fff" stroke="#a0a0a0" stroke-width="1.5"/>
<rect x="1014.85" y="1405.9" width="6.2" height="6.2" fill="#fff" stroke="#a0a0a0" stroke-width="1.5"/>
<rect x="1014.85" y="1411.7" width="6.2" height="6.2" fill="#fff" stroke="#a0a0a0" stroke-width="1.5"/>
<rect x="1014.85" y="1419.2" width="6.2" height="6.2" fill="#fff" stroke="#a0a0a0" stroke-width="1.5"/>
<rect x="1014.85" y="1424.5" width="6.2" height="6.2" fill="#fff" stroke="#a0a0a0" stroke-width="1.5"/>
<rect x="1014.85" y="1428.4" width="6.2" height="6.2" fill="#fff" stroke="#a0a0a0" stroke-width="1.5"/>
<line x1="762.85" y1="1306.8" x2="762.85" y2="1320.6" stroke="#999" stroke-width="1.6" />
<line x1="756.6" y1="1306.8" x2="769.1" y2="1306.8" stroke="#999" stroke-width="1.6" />
<line x1="794.15" y1="1417.5" x2="794.15" y2="1420.1" stroke="#999" stroke-width="1.6" />
<line x1="787.9" y1="1417.5" x2="800.4" y2="1417.5" stroke="#999" stroke-width="1.6" />
<line x1="837.45" y1="1290.1" x2="837.45" y2="1302.1" stroke="#ff6a00" stroke-width="2.2" />
<line x1="831.2" y1="1290.1" x2="843.7" y2="1290.1" stroke="#ff6a00" stroke-width="2.2" />
<line x1="868.45" y1="1421" x2="868.45" y2="1424.1" stroke="#ff6a00" stroke-width="2.2" />
<line x1="862.2" y1="1421" x2="874.7" y2="1421" stroke="#ff6a00" stroke-width="2.2" />
<line x1="912.25" y1="1365.2" x2="912.25" y2="1373.2" stroke="#ef1a8a" stroke-width="2.2" />
<line x1="906" y1="1365.2" x2="918.5" y2="1365.2" stroke="#ef1a8a" stroke-width="2.2" />
<line x1="943.3" y1="1405" x2="943.3" y2="1407.7" stroke="#ef1a8a" stroke-width="2.2" />
<line x1="937.05" y1="1405" x2="949.55" y2="1405" stroke="#ef1a8a" stroke-width="2.2" />
<line x1="986.8" y1="1313.5" x2="986.8" y2="1333.4" stroke="#ef1a8a" stroke-width="2.2" />
<line x1="980.55" y1="1313.5" x2="993.05" y2="1313.5" stroke="#ef1a8a" stroke-width="2.2" />
<line x1="980.55" y1="1333.4" x2="993.05" y2="1333.4" stroke="#ef1a8a" stroke-width="2.2" />
<line x1="1017.95" y1="1419.6" x2="1017.95" y2="1424.9" stroke="#ef1a8a" stroke-width="2.2" />
<line x1="1011.7" y1="1419.6" x2="1024.2" y2="1419.6" stroke="#ef1a8a" stroke-width="2.2" />
<line x1="1011.7" y1="1424.9" x2="1024.2" y2="1424.9" stroke="#ef1a8a" stroke-width="2.2" />
<text x="762.85" y="1447.5" font-size="18" text-anchor="middle" fill="#111">15</text>
<text x="794.15" y="1447.5" font-size="18" text-anchor="middle" fill="#111">15</text>
<text x="837.45" y="1447.5" font-size="18" text-anchor="middle" fill="#111">14</text>
<text x="868.45" y="1447.5" font-size="18" text-anchor="middle" fill="#111">14</text>
<text x="912.25" y="1447.5" font-size="18" text-anchor="middle" fill="#2a0010">11</text>
<text x="943.3" y="1447.5" font-size="18" text-anchor="middle" fill="#2a0010">11</text>
<text x="986.8" y="1447.5" font-size="18" text-anchor="middle" fill="#111">13</text>
<text x="1017.95" y="1447.5" font-size="18" text-anchor="middle" fill="#111">13</text>
<line x1="731.6" y1="1137.5" x2="731.6" y2="1457.7" stroke="#000" stroke-width="1.8" />
<line x1="723.5" y1="1456.8" x2="731.6" y2="1456.8" stroke="#000" stroke-width="1.8" />
<text x="719.9" y="1465.28" font-size="25.3" text-anchor="end">0</text>
<line x1="723.5" y1="1411.31" x2="731.6" y2="1411.31" stroke="#000" stroke-width="1.8" />
<text x="719.9" y="1419.79" font-size="25.3" text-anchor="end">10</text>
<line x1="723.5" y1="1365.83" x2="731.6" y2="1365.83" stroke="#000" stroke-width="1.8" />
<text x="719.9" y="1374.3" font-size="25.3" text-anchor="end">20</text>
<line x1="723.5" y1="1320.34" x2="731.6" y2="1320.34" stroke="#000" stroke-width="1.8" />
<text x="719.9" y="1328.82" font-size="25.3" text-anchor="end">30</text>
<line x1="723.5" y1="1274.86" x2="731.6" y2="1274.86" stroke="#000" stroke-width="1.8" />
<text x="719.9" y="1283.33" font-size="25.3" text-anchor="end">40</text>
<line x1="723.5" y1="1229.37" x2="731.6" y2="1229.37" stroke="#000" stroke-width="1.8" />
<text x="719.9" y="1237.85" font-size="25.3" text-anchor="end">50</text>
<line x1="723.5" y1="1183.89" x2="731.6" y2="1183.89" stroke="#000" stroke-width="1.8" />
<text x="719.9" y="1192.36" font-size="25.3" text-anchor="end">60</text>
<line x1="723.5" y1="1138.4" x2="731.6" y2="1138.4" stroke="#000" stroke-width="1.8" />
<text x="719.9" y="1146.88" font-size="25.3" text-anchor="end">70</text>
<line x1="723.5" y1="1456.8" x2="1050.4" y2="1456.8" stroke="#000" stroke-width="1.9" />
<path d="M765.1,1137 V1125.9 H913.2 V1231.2" stroke="#000" stroke-width="1.9" fill="none" />
<path d="M919.8,1121.9 V1118.5 H988 V1187.5" stroke="#000" stroke-width="1.9" fill="none" />
<text x="832.3" y="1110" font-size="18.5" text-anchor="middle">*</text>
<text x="946.9" y="1102" font-size="18.5" text-anchor="middle">*</text>
<text x="766.3" y="1484.7" font-size="28.3" text-anchor="middle">T</text>
<text x="796" y="1484.7" font-size="28.3" text-anchor="middle">O</text>
<text x="844.5" y="1484.7" font-size="28.3" text-anchor="middle">T</text>
<text x="873.9" y="1484.7" font-size="28.3" text-anchor="middle">O</text>
<text x="916.4" y="1484.7" font-size="28.3" text-anchor="middle">T</text>
<text x="945.8" y="1484.7" font-size="28.3" text-anchor="middle">O</text>
<text x="994.1" y="1484.7" font-size="28.3" text-anchor="middle">T</text>
<text x="1025.2" y="1484.7" font-size="28.3" text-anchor="middle">O</text>
<text x="666.5" y="1371.9" font-size="26.4" transform="rotate(-90 666.5 1371.9)">Percent time</text>
<rect x="1043.2" y="1133.3" width="31.4" height="22.1" fill="#a1a1a5" rx="1.5" />
<rect x="1043.2" y="1163.7" width="31.4" height="21.8" fill="#ff8200" rx="1.5" />
<rect x="1043.2" y="1195.1" width="31.4" height="21.5" fill="#ef1a8a" rx="1.5" />
<rect x="1044.1" y="1229.3" width="29.6" height="19.6" fill="#fff" stroke="#ef1a8a" stroke-width="1.8" rx="1" />
<text x="1089.5" y="1150.8" font-size="23.4" textLength="149" lengthAdjust="spacingAndGlyphs">WT+TAT-Cntrl</text>
<text x="1089.5" y="1181.3" font-size="23.4">WT+TAT-GluA2<tspan font-size="19.5" dy="6">3Y</tspan></text>
<text x="1089.5" y="1214.5" font-size="23.4">5XFAD+TAT-Cntrl</text>
<text x="1089.5" y="1247.8" font-size="23.4">5XFAD+TAT-GluA2<tspan font-size="19.5" dy="6">3Y</tspan></text>
<text x="1351.5" y="1004.9" font-size="39">I</text>
<rect x="1508.9" y="1446.2" width="27.3" height="6.8" fill="#a1a1a5" rx="0" />
<rect x="1544.7" y="1446.2" width="27.3" height="6.8" fill="#ff8200" rx="0" />
<rect x="1595.05" y="1215.05" width="24.5" height="238.1" fill="#fff" stroke="#a1a1a5" stroke-width="1.7" rx="0" />
<rect x="1629.85" y="1208.85" width="25.6" height="244.3" fill="#fff" stroke="#ff8200" stroke-width="1.7" rx="0" />
<circle cx="1522.5" cy="1445.2" r="4.4" fill="#fff" stroke="#a0a0a0" stroke-width="1.6"/>
<circle cx="1557.7" cy="1446.2" r="4.4" fill="#fff" stroke="#a0a0a0" stroke-width="1.6"/>
<rect x="1602.85" y="1201.35" width="8.5" height="8.5" fill="#fff" stroke="#a0a0a0" stroke-width="1.6"/>
<rect x="1602.85" y="1209.95" width="8.5" height="8.5" fill="#fff" stroke="#a0a0a0" stroke-width="1.6"/>
<rect x="1602.85" y="1216.75" width="8.5" height="8.5" fill="#fff" stroke="#a0a0a0" stroke-width="1.6"/>
<rect x="1637.75" y="1185.05" width="8.5" height="8.5" fill="#fff" stroke="#a0a0a0" stroke-width="1.6"/>
<rect x="1637.75" y="1194.55" width="8.5" height="8.5" fill="#fff" stroke="#a0a0a0" stroke-width="1.6"/>
<rect x="1637.75" y="1206.55" width="8.5" height="8.5" fill="#fff" stroke="#a0a0a0" stroke-width="1.6"/>
<line x1="1601" y1="1212.5" x2="1613" y2="1212.5" stroke="#999" stroke-width="1.6" />
<line x1="1642.6" y1="1201.6" x2="1642.6" y2="1214.2" stroke="#ff8200" stroke-width="1.8" />
<line x1="1636.6" y1="1201.6" x2="1648.6" y2="1201.6" stroke="#ff8200" stroke-width="1.8" />
<line x1="1636.6" y1="1214.2" x2="1648.6" y2="1214.2" stroke="#ff8200" stroke-width="1.8" />
<text x="1522.5" y="1427.4" font-size="17.5" text-anchor="middle">3</text>
<text x="1557.7" y="1427.4" font-size="17.5" text-anchor="middle">3</text>
<text x="1607.1" y="1443.8" font-size="17.5" text-anchor="middle">5</text>
<text x="1642" y="1443.8" font-size="17.5" text-anchor="middle">5</text>
<line x1="1487.2" y1="1133.8" x2="1487.2" y2="1453.9" stroke="#000" stroke-width="1.8" />
<line x1="1478.1" y1="1453" x2="1487.2" y2="1453" stroke="#000" stroke-width="1.8" />
<text x="1475.5" y="1461.54" font-size="25.5" text-anchor="end">0</text>
<line x1="1478.1" y1="1373.42" x2="1487.2" y2="1373.42" stroke="#000" stroke-width="1.8" />
<text x="1475.5" y="1381.97" font-size="25.5" text-anchor="end">1000</text>
<line x1="1478.1" y1="1293.85" x2="1487.2" y2="1293.85" stroke="#000" stroke-width="1.8" />
<text x="1475.5" y="1302.39" font-size="25.5" text-anchor="end">2000</text>
<line x1="1478.1" y1="1214.28" x2="1487.2" y2="1214.28" stroke="#000" stroke-width="1.8" />
<text x="1475.5" y="1222.82" font-size="25.5" text-anchor="end">3000</text>
<line x1="1478.1" y1="1134.7" x2="1487.2" y2="1134.7" stroke="#000" stroke-width="1.8" />
<text x="1475.5" y="1143.24" font-size="25.5" text-anchor="end">4000</text>
<line x1="1478.2" y1="1453" x2="1678.8" y2="1453" stroke="#000" stroke-width="1.9" />
<path d="M1611.9,1166.4 V1157.2 H1645.4 V1166.4" stroke="#000" stroke-width="1.9" fill="none" />
<text x="1631.7" y="1140.8" font-size="22.3" text-anchor="middle">n.s.</text>
<text x="1549" y="1485.8" font-size="27.5" text-anchor="middle">WT</text>
<text x="1631" y="1485.8" font-size="27.5" text-anchor="middle">Tg</text>
<text x="1390.7" y="1376" font-size="27" transform="rotate(-90 1390.7 1376)">Aβ<tspan font-size="19" dy="5.7">1-40</tspan><tspan dy="-5.7"> (pg/ml)</tspan></text>
<rect x="1806.3" y="1448.2" width="28.3" height="4.3" fill="#a1a1a5" rx="0" />
<rect x="1841.7" y="1448.2" width="28.3" height="4.3" fill="#ff8200" rx="0" />
<rect x="1892.35" y="1238.55" width="25.6" height="214.1" fill="#fff" stroke="#a1a1a5" stroke-width="1.7" rx="0" />
<rect x="1927.25" y="1223.45" width="26.1" height="229.2" fill="#fff" stroke="#ff8200" stroke-width="1.7" rx="0" />
<circle cx="1820.7" cy="1447.4" r="4.4" fill="#fff" stroke="#a0a0a0" stroke-width="1.6"/>
<circle cx="1856.1" cy="1447.4" r="4.4" fill="#fff" stroke="#a0a0a0" stroke-width="1.6"/>
<rect x="1900.65" y="1191.25" width="8.5" height="8.5" fill="#fff" stroke="#a0a0a0" stroke-width="1.6"/>
<rect x="1900.65" y="1210.25" width="8.5" height="8.5" fill="#fff" stroke="#a0a0a0" stroke-width="1.6"/>
<rect x="1900.65" y="1232.15" width="8.5" height="8.5" fill="#fff" stroke="#a0a0a0" stroke-width="1.6"/>
<rect x="1900.65" y="1256.25" width="8.5" height="8.5" fill="#fff" stroke="#a0a0a0" stroke-width="1.6"/>
<rect x="1900.65" y="1273.85" width="8.5" height="8.5" fill="#fff" stroke="#a0a0a0" stroke-width="1.6"/>
<rect x="1936.05" y="1181.65" width="8.5" height="8.5" fill="#fff" stroke="#a0a0a0" stroke-width="1.6"/>
<rect x="1936.05" y="1187.95" width="8.5" height="8.5" fill="#fff" stroke="#a0a0a0" stroke-width="1.6"/>
<rect x="1936.05" y="1227.15" width="8.5" height="8.5" fill="#fff" stroke="#a0a0a0" stroke-width="1.6"/>
<rect x="1936.05" y="1230.95" width="8.5" height="8.5" fill="#fff" stroke="#a0a0a0" stroke-width="1.6"/>
<rect x="1936.05" y="1241.05" width="8.5" height="8.5" fill="#fff" stroke="#a0a0a0" stroke-width="1.6"/>
<line x1="1904.9" y1="1222" x2="1904.9" y2="1251.6" stroke="#999" stroke-width="1.7" />
<line x1="1898.9" y1="1222" x2="1910.9" y2="1222" stroke="#999" stroke-width="1.7" />
<line x1="1898.9" y1="1251.6" x2="1910.9" y2="1251.6" stroke="#999" stroke-width="1.7" />
<line x1="1940.3" y1="1211.7" x2="1940.3" y2="1231.9" stroke="#ff8200" stroke-width="1.8" />
<line x1="1934.3" y1="1211.7" x2="1946.3" y2="1211.7" stroke="#ff8200" stroke-width="1.8" />
<line x1="1934.3" y1="1231.9" x2="1946.3" y2="1231.9" stroke="#ff8200" stroke-width="1.8" />
<text x="1820.7" y="1426" font-size="17.5" text-anchor="middle">3</text>
<text x="1856.1" y="1426" font-size="17.5" text-anchor="middle">3</text>
<text x="1904.9" y="1443.1" font-size="17.5" text-anchor="middle">5</text>
<text x="1940.3" y="1443.1" font-size="17.5" text-anchor="middle">6</text>
<line x1="1784.4" y1="1133.2" x2="1784.4" y2="1453.4" stroke="#000" stroke-width="1.8" />
<line x1="1776.5" y1="1452.5" x2="1784.4" y2="1452.5" stroke="#000" stroke-width="1.8" />
<text x="1773.2" y="1460.81" font-size="24.8" text-anchor="end">0</text>
<line x1="1776.5" y1="1388.82" x2="1784.4" y2="1388.82" stroke="#000" stroke-width="1.8" />
<text x="1773.2" y="1397.13" font-size="24.8" text-anchor="end">200</text>
<line x1="1776.5" y1="1325.14" x2="1784.4" y2="1325.14" stroke="#000" stroke-width="1.8" />
<text x="1773.2" y="1333.45" font-size="24.8" text-anchor="end">400</text>
<line x1="1776.5" y1="1261.46" x2="1784.4" y2="1261.46" stroke="#000" stroke-width="1.8" />
<text x="1773.2" y="1269.77" font-size="24.8" text-anchor="end">600</text>
<line x1="1776.5" y1="1197.78" x2="1784.4" y2="1197.78" stroke="#000" stroke-width="1.8" />
<text x="1773.2" y="1206.09" font-size="24.8" text-anchor="end">800</text>
<line x1="1776.5" y1="1134.1" x2="1784.4" y2="1134.1" stroke="#000" stroke-width="1.8" />
<text x="1773.2" y="1142.41" font-size="24.8" text-anchor="end">1000</text>
<line x1="1776.5" y1="1452.5" x2="1976.9" y2="1452.5" stroke="#000" stroke-width="1.9" />
<path d="M1908.2,1160.6 V1152.3 H1941.5 V1160.6" stroke="#000" stroke-width="1.9" fill="none" />
<text x="1922" y="1134.9" font-size="22.3" text-anchor="middle">n.s.</text>
<text x="1842.5" y="1485.5" font-size="27.5" text-anchor="middle">WT</text>
<text x="1928.9" y="1485.5" font-size="27.5" text-anchor="middle">Tg</text>
<text x="1706.5" y="1375.6" font-size="27" transform="rotate(-90 1706.5 1375.6)">A<tspan font-family="'DejaVu Sans', sans-serif" font-size="22">⊠</tspan><tspan font-size="19" dy="5.7">1-42</tspan><tspan dy="-5.7"> (pg/ml)</tspan></text>
<rect x="1992.1" y="1133.4" width="31.1" height="21.7" fill="#a1a1a5" rx="1.5" />
<rect x="1992.1" y="1163.7" width="31.1" height="21.7" fill="#ff8200" rx="1.5" />
<text x="2031.7" y="1150.5" font-size="23.4">TAT-Cntrl</text>
<text x="2031.7" y="1180.9" font-size="23.4">TAT-GluA2<tspan font-size="19.5" dy="6">3Y</tspan></text>
</svg></body></html>
